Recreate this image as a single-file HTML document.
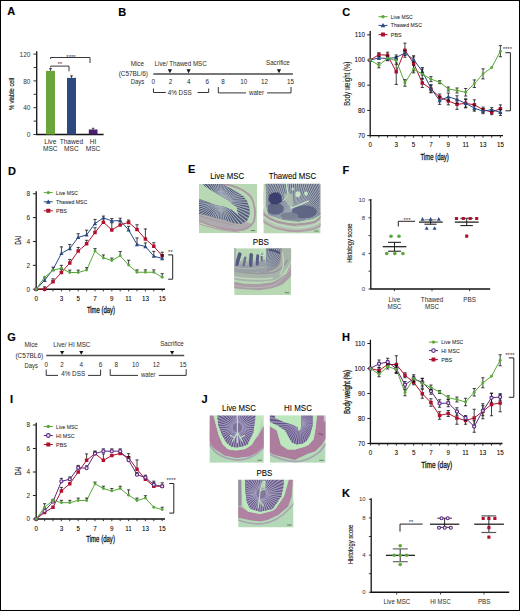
<!DOCTYPE html>
<html><head><meta charset="utf-8"><style>
html,body{margin:0;padding:0;background:#fff;}
body{width:520px;height:611px;overflow:hidden;}
svg{display:block;}
text{font-family:"Liberation Sans",sans-serif;stroke:#1e1e1e;stroke-width:0.15px;}
</style></head><body>
<svg width="520" height="611" viewBox="0 0 520 611" font-family="Liberation Sans, sans-serif">
<rect x="0" y="0" width="520" height="611" fill="#fff"/>
<rect x="0.5" y="0.5" width="519" height="610" fill="none" stroke="#000" stroke-width="1"/>
<text x="7.3" y="15.3" font-size="11" font-weight="bold" fill="#000">A</text>
<line x1="36.7" y1="51.3" x2="36.7" y2="134.5" stroke="#111" stroke-width="1.3"/>
<line x1="36.1" y1="134.5" x2="103.6" y2="134.5" stroke="#111" stroke-width="1.4"/>
<line x1="33.4" y1="134.5" x2="36.7" y2="134.5" stroke="#222" stroke-width="0.9"/>
<text x="30.4" y="137.2" font-size="6.5" style="stroke-width:0px" text-anchor="end" fill="#333">0</text>
<line x1="33.4" y1="107.7" x2="36.7" y2="107.7" stroke="#222" stroke-width="0.9"/>
<text x="30.4" y="110.4" font-size="6.5" style="stroke-width:0px" text-anchor="end" fill="#333">40</text>
<line x1="33.4" y1="80.9" x2="36.7" y2="80.9" stroke="#222" stroke-width="0.9"/>
<text x="30.4" y="83.6" font-size="6.5" style="stroke-width:0px" text-anchor="end" fill="#333">80</text>
<line x1="33.4" y1="54.1" x2="36.7" y2="54.1" stroke="#222" stroke-width="0.9"/>
<text x="30.4" y="56.8" font-size="6.5" style="stroke-width:0px" text-anchor="end" fill="#333">120</text>
<line x1="33.6" y1="121.1" x2="36.7" y2="121.1" stroke="#222" stroke-width="0.9"/>
<line x1="33.6" y1="94.3" x2="36.7" y2="94.3" stroke="#222" stroke-width="0.9"/>
<line x1="33.6" y1="67.5" x2="36.7" y2="67.5" stroke="#222" stroke-width="0.9"/>
<text x="14" y="94" font-size="7.7" style="stroke-width:0.1px" text-anchor="middle" textLength="32.4" lengthAdjust="spacingAndGlyphs" transform="rotate(-90 14 94)">% viable cell</text>
<rect x="46" y="70.85" width="9" height="63.65" fill="#6aa63c"/>
<rect x="67" y="77.88" width="9" height="56.62" fill="#2c4a80"/>
<rect x="88.8" y="129.47" width="8.7" height="5.03" fill="#4b1f6c"/>
<line x1="50.5" y1="70.85" x2="50.5" y2="68.65" stroke="#111" stroke-width="0.8"/>
<line x1="49" y1="68.65" x2="52" y2="68.65" stroke="#111" stroke-width="0.8"/>
<line x1="71.5" y1="77.88" x2="71.5" y2="75.88" stroke="#111" stroke-width="0.8"/>
<line x1="70" y1="75.88" x2="73" y2="75.88" stroke="#111" stroke-width="0.8"/>
<line x1="93.1" y1="129.47" x2="93.1" y2="128.28" stroke="#111" stroke-width="0.8"/>
<line x1="91.9" y1="128.28" x2="94.3" y2="128.28" stroke="#111" stroke-width="0.8"/>
<path d="M50.6,67.3 V66.1 H69 V71.3" stroke="#222" stroke-width="0.9" fill="none"/>
<text x="59.8" y="66.28" font-size="6" style="stroke-width:0px" text-anchor="middle" fill="#333">**</text>
<path d="M50.6,59 V57.5 H90 V63" stroke="#222" stroke-width="0.9" fill="none"/>
<text x="71" y="58.78" font-size="6" style="stroke-width:0px" text-anchor="middle" fill="#333">****</text>
<text x="50.3" y="144" font-size="6.6" style="stroke-width:0px" text-anchor="middle" fill="#2a2a2a">Live</text>
<text x="50.3" y="151.3" font-size="6.6" style="stroke-width:0px" text-anchor="middle" fill="#2a2a2a">MSC</text>
<text x="71.4" y="144" font-size="6.6" style="stroke-width:0px" text-anchor="middle" fill="#2a2a2a">Thawed</text>
<text x="71.4" y="151.3" font-size="6.6" style="stroke-width:0px" text-anchor="middle" fill="#2a2a2a">MSC</text>
<text x="93" y="144" font-size="6.6" style="stroke-width:0px" text-anchor="middle" fill="#2a2a2a">HI</text>
<text x="93" y="151.3" font-size="6.6" style="stroke-width:0px" text-anchor="middle" fill="#2a2a2a">MSC</text>
<text x="118.3" y="15.5" font-size="11" font-weight="bold" fill="#000">B</text>
<text x="137.3" y="65.8" font-size="6.3" style="stroke-width:0px" text-anchor="middle" fill="#2a2a2a">Mice</text>
<text x="118.7" y="76" font-size="6.3" style="stroke-width:0px" textLength="29.2" lengthAdjust="spacingAndGlyphs" fill="#2a2a2a">(C57BL/6)</text>
<text x="130.8" y="84.2" font-size="6.3" style="stroke-width:0px" textLength="13.4" lengthAdjust="spacingAndGlyphs" fill="#2a2a2a">Days</text>
<text x="154.6" y="66" font-size="6.3" style="stroke-width:0px" textLength="52.1" lengthAdjust="spacingAndGlyphs" fill="#2a2a2a">Live/ Thawed MSC</text>
<line x1="153.3" y1="73.9" x2="292.9" y2="73.9" stroke="#4a4a4a" stroke-width="1.5"/>
<path d="M167.8,69.3 L172,69.3 L169.9,73.2 Z" fill="#111"/>
<path d="M186.5,69.3 L190.7,69.3 L188.6,73.2 Z" fill="#111"/>
<path d="M276.9,69.3 L281.1,69.3 L279,73.2 Z" fill="#111"/>
<text x="266" y="65" font-size="6.3" style="stroke-width:0px" textLength="23.8" lengthAdjust="spacingAndGlyphs" fill="#2a2a2a">Sacrifice</text>
<text x="153.3" y="84.2" font-size="6.3" style="stroke-width:0px" text-anchor="middle" fill="#2a2a2a">0</text>
<text x="170.6" y="84.2" font-size="6.3" style="stroke-width:0px" text-anchor="middle" fill="#2a2a2a">2</text>
<text x="188.8" y="84.2" font-size="6.3" style="stroke-width:0px" text-anchor="middle" fill="#2a2a2a">4</text>
<text x="207.3" y="84.2" font-size="6.3" style="stroke-width:0px" text-anchor="middle" fill="#2a2a2a">6</text>
<text x="223" y="84.2" font-size="6.3" style="stroke-width:0px" text-anchor="middle" fill="#2a2a2a">8</text>
<text x="243.8" y="84.2" font-size="6.3" style="stroke-width:0px" text-anchor="middle" fill="#2a2a2a">10</text>
<text x="264.4" y="84.2" font-size="6.3" style="stroke-width:0px" text-anchor="middle" fill="#2a2a2a">12</text>
<text x="290.4" y="84.2" font-size="6.3" style="stroke-width:0px" text-anchor="middle" fill="#2a2a2a">15</text>
<path d="M153.5,88.5 V92.5 H165.8 M197.5,92.5 H208.7 V88.5" stroke="#333" stroke-width="1" fill="none"/>
<text x="179.7" y="94.8" font-size="6.3" style="stroke-width:0px" text-anchor="middle" textLength="24" lengthAdjust="spacingAndGlyphs" fill="#2a2a2a">4% DSS</text>
<path d="M218.3,87 V92.9 H246 M267,92.9 H291 V87" stroke="#333" stroke-width="1" fill="none"/>
<text x="256.5" y="95" font-size="6.3" style="stroke-width:0px" text-anchor="middle" textLength="15" lengthAdjust="spacingAndGlyphs" fill="#2a2a2a">water</text>
<text x="7.3" y="340.5" font-size="11" font-weight="bold" fill="#000">G</text>
<text x="31.2" y="347.4" font-size="6.3" style="stroke-width:0px" text-anchor="middle" fill="#2a2a2a">Mice</text>
<text x="15.4" y="357.5" font-size="6.3" style="stroke-width:0px" textLength="27.9" lengthAdjust="spacingAndGlyphs" fill="#2a2a2a">(C57BL6)</text>
<text x="24.6" y="367.6" font-size="6.3" style="stroke-width:0px" textLength="13.3" lengthAdjust="spacingAndGlyphs" fill="#2a2a2a">Days</text>
<text x="53.3" y="347.4" font-size="6.3" style="stroke-width:0px" textLength="37.1" lengthAdjust="spacingAndGlyphs" fill="#2a2a2a">Live/ HI MSC</text>
<line x1="46.2" y1="355.4" x2="184.2" y2="355.4" stroke="#4a4a4a" stroke-width="1.5"/>
<path d="M60,350.9 L64.2,350.9 L62.1,354.8 Z" fill="#111"/>
<path d="M79.2,350.9 L83.4,350.9 L81.3,354.8 Z" fill="#111"/>
<path d="M170,350.9 L174.2,350.9 L172.1,354.8 Z" fill="#111"/>
<text x="160.2" y="345.9" font-size="6.3" style="stroke-width:0px" textLength="23.6" lengthAdjust="spacingAndGlyphs" fill="#2a2a2a">Sacrifice</text>
<text x="46.2" y="367.1" font-size="6.3" style="stroke-width:0px" text-anchor="middle" fill="#2a2a2a">0</text>
<text x="62.1" y="367.1" font-size="6.3" style="stroke-width:0px" text-anchor="middle" fill="#2a2a2a">2</text>
<text x="81.3" y="367.1" font-size="6.3" style="stroke-width:0px" text-anchor="middle" fill="#2a2a2a">4</text>
<text x="100.6" y="367.1" font-size="6.3" style="stroke-width:0px" text-anchor="middle" fill="#2a2a2a">6</text>
<text x="116.3" y="367.1" font-size="6.3" style="stroke-width:0px" text-anchor="middle" fill="#2a2a2a">8</text>
<text x="135.6" y="367.1" font-size="6.3" style="stroke-width:0px" text-anchor="middle" fill="#2a2a2a">10</text>
<text x="156.3" y="367.1" font-size="6.3" style="stroke-width:0px" text-anchor="middle" fill="#2a2a2a">12</text>
<text x="182.9" y="367.1" font-size="6.3" style="stroke-width:0px" text-anchor="middle" fill="#2a2a2a">15</text>
<path d="M46.2,369.6 V375.4 H58 M88,375.4 H100.6 V369.6" stroke="#333" stroke-width="1" fill="none"/>
<text x="73.2" y="376.3" font-size="6.3" style="stroke-width:0px" text-anchor="middle" textLength="24" lengthAdjust="spacingAndGlyphs" fill="#2a2a2a">4% DSS</text>
<path d="M110.2,369.2 V375.4 H138 M158.8,375.4 H186.2 V369.2" stroke="#333" stroke-width="1" fill="none"/>
<text x="148.2" y="377.4" font-size="6.3" style="stroke-width:0px" text-anchor="middle" textLength="14.4" lengthAdjust="spacingAndGlyphs" fill="#2a2a2a">water</text>
<text x="342.3" y="15.5" font-size="11" font-weight="bold" fill="#000">C</text>
<line x1="370.2" y1="31.02" x2="370.2" y2="135.6" stroke="#111" stroke-width="1.3"/>
<line x1="369.6" y1="135.6" x2="503" y2="135.6" stroke="#111" stroke-width="1.4"/>
<line x1="367.2" y1="135.6" x2="370.2" y2="135.6" stroke="#222" stroke-width="1"/>
<text x="364.9" y="137.8" font-size="6.3" style="stroke-width:0.05px" text-anchor="end">70</text>
<line x1="367.2" y1="110.4" x2="370.2" y2="110.4" stroke="#222" stroke-width="1"/>
<text x="364.9" y="112.6" font-size="6.3" style="stroke-width:0.05px" text-anchor="end">80</text>
<line x1="367.2" y1="85.2" x2="370.2" y2="85.2" stroke="#222" stroke-width="1"/>
<text x="364.9" y="87.4" font-size="6.3" style="stroke-width:0.05px" text-anchor="end">90</text>
<line x1="367.2" y1="60" x2="370.2" y2="60" stroke="#222" stroke-width="1"/>
<text x="364.9" y="62.2" font-size="6.3" style="stroke-width:0.05px" text-anchor="end">100</text>
<line x1="367.2" y1="34.8" x2="370.2" y2="34.8" stroke="#222" stroke-width="1"/>
<text x="364.9" y="37" font-size="6.3" style="stroke-width:0.05px" text-anchor="end">110</text>
<line x1="370.2" y1="135.6" x2="370.2" y2="137.8" stroke="#222" stroke-width="0.9"/>
<line x1="378.88" y1="135.6" x2="378.88" y2="137.8" stroke="#222" stroke-width="0.9"/>
<line x1="387.56" y1="135.6" x2="387.56" y2="137.8" stroke="#222" stroke-width="0.9"/>
<line x1="396.24" y1="135.6" x2="396.24" y2="137.8" stroke="#222" stroke-width="0.9"/>
<line x1="404.92" y1="135.6" x2="404.92" y2="137.8" stroke="#222" stroke-width="0.9"/>
<line x1="413.6" y1="135.6" x2="413.6" y2="137.8" stroke="#222" stroke-width="0.9"/>
<line x1="422.28" y1="135.6" x2="422.28" y2="137.8" stroke="#222" stroke-width="0.9"/>
<line x1="430.96" y1="135.6" x2="430.96" y2="137.8" stroke="#222" stroke-width="0.9"/>
<line x1="439.64" y1="135.6" x2="439.64" y2="137.8" stroke="#222" stroke-width="0.9"/>
<line x1="448.32" y1="135.6" x2="448.32" y2="137.8" stroke="#222" stroke-width="0.9"/>
<line x1="457" y1="135.6" x2="457" y2="137.8" stroke="#222" stroke-width="0.9"/>
<line x1="465.68" y1="135.6" x2="465.68" y2="137.8" stroke="#222" stroke-width="0.9"/>
<line x1="474.36" y1="135.6" x2="474.36" y2="137.8" stroke="#222" stroke-width="0.9"/>
<line x1="483.04" y1="135.6" x2="483.04" y2="137.8" stroke="#222" stroke-width="0.9"/>
<line x1="491.72" y1="135.6" x2="491.72" y2="137.8" stroke="#222" stroke-width="0.9"/>
<line x1="500.4" y1="135.6" x2="500.4" y2="137.8" stroke="#222" stroke-width="0.9"/>
<text x="370.2" y="147.2" font-size="6.3" style="stroke-width:0.05px" text-anchor="middle">0</text>
<text x="396.24" y="147.2" font-size="6.3" style="stroke-width:0.05px" text-anchor="middle">3</text>
<text x="413.6" y="147.2" font-size="6.3" style="stroke-width:0.05px" text-anchor="middle">5</text>
<text x="430.96" y="147.2" font-size="6.3" style="stroke-width:0.05px" text-anchor="middle">7</text>
<text x="448.32" y="147.2" font-size="6.3" style="stroke-width:0.05px" text-anchor="middle">9</text>
<text x="465.68" y="147.2" font-size="6.3" style="stroke-width:0.05px" text-anchor="middle">11</text>
<text x="483.04" y="147.2" font-size="6.3" style="stroke-width:0.05px" text-anchor="middle">13</text>
<text x="500.4" y="147.2" font-size="6.3" style="stroke-width:0.05px" text-anchor="middle">15</text>
<text x="420.4" y="159.8" font-size="8.8" style="stroke-width:0.3px" textLength="28.4" lengthAdjust="spacingAndGlyphs">Time (day)</text>
<text x="349.6" y="83.69" font-size="8.3" style="stroke-width:0.05px" text-anchor="middle" textLength="44" lengthAdjust="spacingAndGlyphs" transform="rotate(-90 349.6 83.69)">Body weight (%)</text>
<line x1="378.5" y1="16.7" x2="387.5" y2="16.7" stroke="#5aa83a" stroke-width="1"/>
<circle cx="383" cy="16.7" r="1.67" fill="#5aa83a"/>
<text x="390.8" y="18.7" font-size="5.6" style="stroke-width:0.05px" textLength="21.9" lengthAdjust="spacingAndGlyphs" fill="#222">Live MSC</text>
<line x1="378.5" y1="25.4" x2="387.5" y2="25.4" stroke="#2a4a86" stroke-width="1"/>
<path d="M383,22.98 L385.42,27.33 L380.58,27.33 Z" fill="#2a4a86"/>
<text x="390.8" y="27.4" font-size="5.6" style="stroke-width:0.05px" textLength="31.1" lengthAdjust="spacingAndGlyphs" fill="#222">Thawed MSC</text>
<line x1="378.5" y1="34.6" x2="387.5" y2="34.6" stroke="#b0102e" stroke-width="1"/>
<rect x="380.99" y="32.59" width="4.02" height="4.02" rx="0.5" fill="#b0102e"/>
<text x="390.8" y="36.6" font-size="5.6" style="stroke-width:0.05px" textLength="10.8" lengthAdjust="spacingAndGlyphs" fill="#222">PBS</text>
<polyline points="370.2,60 378.88,54.71 387.56,55.21 396.24,71.84 404.92,50.17 413.6,63.28 422.28,82.93 430.96,88.98 439.64,97.04 448.32,101.08 457,104.35 465.68,103.34 474.36,104.86 483.04,109.64 491.72,112.16 500.4,108.64" fill="none" stroke="#b0102e" stroke-width="1" stroke-linejoin="round"/>
<line x1="378.88" y1="54.71" x2="378.88" y2="52.69" stroke="#111" stroke-width="0.8"/>
<line x1="377.28" y1="52.69" x2="380.48" y2="52.69" stroke="#111" stroke-width="0.8"/>
<line x1="378.88" y1="54.71" x2="378.88" y2="56.72" stroke="#111" stroke-width="0.8"/>
<line x1="377.28" y1="56.72" x2="380.48" y2="56.72" stroke="#111" stroke-width="0.8"/>
<line x1="387.56" y1="55.21" x2="387.56" y2="52.19" stroke="#111" stroke-width="0.8"/>
<line x1="385.96" y1="52.19" x2="389.16" y2="52.19" stroke="#111" stroke-width="0.8"/>
<line x1="387.56" y1="55.21" x2="387.56" y2="58.24" stroke="#111" stroke-width="0.8"/>
<line x1="385.96" y1="58.24" x2="389.16" y2="58.24" stroke="#111" stroke-width="0.8"/>
<line x1="396.24" y1="71.84" x2="396.24" y2="59.24" stroke="#111" stroke-width="0.8"/>
<line x1="394.64" y1="59.24" x2="397.84" y2="59.24" stroke="#111" stroke-width="0.8"/>
<line x1="396.24" y1="71.84" x2="396.24" y2="84.44" stroke="#111" stroke-width="0.8"/>
<line x1="394.64" y1="84.44" x2="397.84" y2="84.44" stroke="#111" stroke-width="0.8"/>
<line x1="404.92" y1="50.17" x2="404.92" y2="43.12" stroke="#111" stroke-width="0.8"/>
<line x1="403.32" y1="43.12" x2="406.52" y2="43.12" stroke="#111" stroke-width="0.8"/>
<line x1="404.92" y1="50.17" x2="404.92" y2="57.23" stroke="#111" stroke-width="0.8"/>
<line x1="403.32" y1="57.23" x2="406.52" y2="57.23" stroke="#111" stroke-width="0.8"/>
<line x1="413.6" y1="63.28" x2="413.6" y2="55.72" stroke="#111" stroke-width="0.8"/>
<line x1="412" y1="55.72" x2="415.2" y2="55.72" stroke="#111" stroke-width="0.8"/>
<line x1="413.6" y1="63.28" x2="413.6" y2="70.84" stroke="#111" stroke-width="0.8"/>
<line x1="412" y1="70.84" x2="415.2" y2="70.84" stroke="#111" stroke-width="0.8"/>
<line x1="422.28" y1="82.93" x2="422.28" y2="78.4" stroke="#111" stroke-width="0.8"/>
<line x1="420.68" y1="78.4" x2="423.88" y2="78.4" stroke="#111" stroke-width="0.8"/>
<line x1="422.28" y1="82.93" x2="422.28" y2="87.47" stroke="#111" stroke-width="0.8"/>
<line x1="420.68" y1="87.47" x2="423.88" y2="87.47" stroke="#111" stroke-width="0.8"/>
<line x1="430.96" y1="88.98" x2="430.96" y2="85.2" stroke="#111" stroke-width="0.8"/>
<line x1="429.36" y1="85.2" x2="432.56" y2="85.2" stroke="#111" stroke-width="0.8"/>
<line x1="430.96" y1="88.98" x2="430.96" y2="92.76" stroke="#111" stroke-width="0.8"/>
<line x1="429.36" y1="92.76" x2="432.56" y2="92.76" stroke="#111" stroke-width="0.8"/>
<line x1="439.64" y1="97.04" x2="439.64" y2="94.02" stroke="#111" stroke-width="0.8"/>
<line x1="438.04" y1="94.02" x2="441.24" y2="94.02" stroke="#111" stroke-width="0.8"/>
<line x1="439.64" y1="97.04" x2="439.64" y2="100.07" stroke="#111" stroke-width="0.8"/>
<line x1="438.04" y1="100.07" x2="441.24" y2="100.07" stroke="#111" stroke-width="0.8"/>
<line x1="448.32" y1="101.08" x2="448.32" y2="97.3" stroke="#111" stroke-width="0.8"/>
<line x1="446.72" y1="97.3" x2="449.92" y2="97.3" stroke="#111" stroke-width="0.8"/>
<line x1="448.32" y1="101.08" x2="448.32" y2="104.86" stroke="#111" stroke-width="0.8"/>
<line x1="446.72" y1="104.86" x2="449.92" y2="104.86" stroke="#111" stroke-width="0.8"/>
<line x1="457" y1="104.35" x2="457" y2="99.31" stroke="#111" stroke-width="0.8"/>
<line x1="455.4" y1="99.31" x2="458.6" y2="99.31" stroke="#111" stroke-width="0.8"/>
<line x1="457" y1="104.35" x2="457" y2="109.39" stroke="#111" stroke-width="0.8"/>
<line x1="455.4" y1="109.39" x2="458.6" y2="109.39" stroke="#111" stroke-width="0.8"/>
<line x1="465.68" y1="103.34" x2="465.68" y2="98.81" stroke="#111" stroke-width="0.8"/>
<line x1="464.08" y1="98.81" x2="467.28" y2="98.81" stroke="#111" stroke-width="0.8"/>
<line x1="465.68" y1="103.34" x2="465.68" y2="107.88" stroke="#111" stroke-width="0.8"/>
<line x1="464.08" y1="107.88" x2="467.28" y2="107.88" stroke="#111" stroke-width="0.8"/>
<line x1="474.36" y1="104.86" x2="474.36" y2="99.82" stroke="#111" stroke-width="0.8"/>
<line x1="472.76" y1="99.82" x2="475.96" y2="99.82" stroke="#111" stroke-width="0.8"/>
<line x1="474.36" y1="104.86" x2="474.36" y2="109.9" stroke="#111" stroke-width="0.8"/>
<line x1="472.76" y1="109.9" x2="475.96" y2="109.9" stroke="#111" stroke-width="0.8"/>
<line x1="483.04" y1="109.64" x2="483.04" y2="107.12" stroke="#111" stroke-width="0.8"/>
<line x1="481.44" y1="107.12" x2="484.64" y2="107.12" stroke="#111" stroke-width="0.8"/>
<line x1="483.04" y1="109.64" x2="483.04" y2="112.16" stroke="#111" stroke-width="0.8"/>
<line x1="481.44" y1="112.16" x2="484.64" y2="112.16" stroke="#111" stroke-width="0.8"/>
<line x1="491.72" y1="112.16" x2="491.72" y2="109.64" stroke="#111" stroke-width="0.8"/>
<line x1="490.12" y1="109.64" x2="493.32" y2="109.64" stroke="#111" stroke-width="0.8"/>
<line x1="491.72" y1="112.16" x2="491.72" y2="114.68" stroke="#111" stroke-width="0.8"/>
<line x1="490.12" y1="114.68" x2="493.32" y2="114.68" stroke="#111" stroke-width="0.8"/>
<line x1="500.4" y1="108.64" x2="500.4" y2="104.86" stroke="#111" stroke-width="0.8"/>
<line x1="498.8" y1="104.86" x2="502" y2="104.86" stroke="#111" stroke-width="0.8"/>
<line x1="500.4" y1="108.64" x2="500.4" y2="112.42" stroke="#111" stroke-width="0.8"/>
<line x1="498.8" y1="112.42" x2="502" y2="112.42" stroke="#111" stroke-width="0.8"/>
<rect x="368.45" y="58.25" width="3.5" height="3.5" rx="0.5" fill="#b0102e"/>
<rect x="377.13" y="52.96" width="3.5" height="3.5" rx="0.5" fill="#b0102e"/>
<rect x="385.81" y="53.46" width="3.5" height="3.5" rx="0.5" fill="#b0102e"/>
<rect x="394.49" y="70.09" width="3.5" height="3.5" rx="0.5" fill="#b0102e"/>
<rect x="403.17" y="48.42" width="3.5" height="3.5" rx="0.5" fill="#b0102e"/>
<rect x="411.85" y="61.53" width="3.5" height="3.5" rx="0.5" fill="#b0102e"/>
<rect x="420.53" y="81.18" width="3.5" height="3.5" rx="0.5" fill="#b0102e"/>
<rect x="429.21" y="87.23" width="3.5" height="3.5" rx="0.5" fill="#b0102e"/>
<rect x="437.89" y="95.29" width="3.5" height="3.5" rx="0.5" fill="#b0102e"/>
<rect x="446.57" y="99.33" width="3.5" height="3.5" rx="0.5" fill="#b0102e"/>
<rect x="455.25" y="102.6" width="3.5" height="3.5" rx="0.5" fill="#b0102e"/>
<rect x="463.93" y="101.59" width="3.5" height="3.5" rx="0.5" fill="#b0102e"/>
<rect x="472.61" y="103.11" width="3.5" height="3.5" rx="0.5" fill="#b0102e"/>
<rect x="481.29" y="107.89" width="3.5" height="3.5" rx="0.5" fill="#b0102e"/>
<rect x="489.97" y="110.41" width="3.5" height="3.5" rx="0.5" fill="#b0102e"/>
<rect x="498.65" y="106.89" width="3.5" height="3.5" rx="0.5" fill="#b0102e"/>
<polyline points="370.2,60 378.88,57.98 387.56,58.49 396.24,57.48 404.92,52.94 413.6,59.5 422.28,71.34 430.96,88.48 439.64,100.57 448.32,96.79 457,99.56 465.68,103.34 474.36,108.13 483.04,111.16 491.72,109.64 500.4,112.42" fill="none" stroke="#2a4a86" stroke-width="1" stroke-linejoin="round"/>
<line x1="378.88" y1="57.98" x2="378.88" y2="56.72" stroke="#111" stroke-width="0.8"/>
<line x1="377.28" y1="56.72" x2="380.48" y2="56.72" stroke="#111" stroke-width="0.8"/>
<line x1="378.88" y1="57.98" x2="378.88" y2="59.24" stroke="#111" stroke-width="0.8"/>
<line x1="377.28" y1="59.24" x2="380.48" y2="59.24" stroke="#111" stroke-width="0.8"/>
<line x1="387.56" y1="58.49" x2="387.56" y2="56.98" stroke="#111" stroke-width="0.8"/>
<line x1="385.96" y1="56.98" x2="389.16" y2="56.98" stroke="#111" stroke-width="0.8"/>
<line x1="387.56" y1="58.49" x2="387.56" y2="60" stroke="#111" stroke-width="0.8"/>
<line x1="385.96" y1="60" x2="389.16" y2="60" stroke="#111" stroke-width="0.8"/>
<line x1="396.24" y1="57.48" x2="396.24" y2="54.96" stroke="#111" stroke-width="0.8"/>
<line x1="394.64" y1="54.96" x2="397.84" y2="54.96" stroke="#111" stroke-width="0.8"/>
<line x1="396.24" y1="57.48" x2="396.24" y2="60" stroke="#111" stroke-width="0.8"/>
<line x1="394.64" y1="60" x2="397.84" y2="60" stroke="#111" stroke-width="0.8"/>
<line x1="404.92" y1="52.94" x2="404.92" y2="50.42" stroke="#111" stroke-width="0.8"/>
<line x1="403.32" y1="50.42" x2="406.52" y2="50.42" stroke="#111" stroke-width="0.8"/>
<line x1="404.92" y1="52.94" x2="404.92" y2="55.46" stroke="#111" stroke-width="0.8"/>
<line x1="403.32" y1="55.46" x2="406.52" y2="55.46" stroke="#111" stroke-width="0.8"/>
<line x1="413.6" y1="59.5" x2="413.6" y2="56.98" stroke="#111" stroke-width="0.8"/>
<line x1="412" y1="56.98" x2="415.2" y2="56.98" stroke="#111" stroke-width="0.8"/>
<line x1="413.6" y1="59.5" x2="413.6" y2="62.02" stroke="#111" stroke-width="0.8"/>
<line x1="412" y1="62.02" x2="415.2" y2="62.02" stroke="#111" stroke-width="0.8"/>
<line x1="422.28" y1="71.34" x2="422.28" y2="67.56" stroke="#111" stroke-width="0.8"/>
<line x1="420.68" y1="67.56" x2="423.88" y2="67.56" stroke="#111" stroke-width="0.8"/>
<line x1="422.28" y1="71.34" x2="422.28" y2="75.12" stroke="#111" stroke-width="0.8"/>
<line x1="420.68" y1="75.12" x2="423.88" y2="75.12" stroke="#111" stroke-width="0.8"/>
<line x1="430.96" y1="88.48" x2="430.96" y2="84.7" stroke="#111" stroke-width="0.8"/>
<line x1="429.36" y1="84.7" x2="432.56" y2="84.7" stroke="#111" stroke-width="0.8"/>
<line x1="430.96" y1="88.48" x2="430.96" y2="92.26" stroke="#111" stroke-width="0.8"/>
<line x1="429.36" y1="92.26" x2="432.56" y2="92.26" stroke="#111" stroke-width="0.8"/>
<line x1="439.64" y1="100.57" x2="439.64" y2="96.79" stroke="#111" stroke-width="0.8"/>
<line x1="438.04" y1="96.79" x2="441.24" y2="96.79" stroke="#111" stroke-width="0.8"/>
<line x1="439.64" y1="100.57" x2="439.64" y2="104.35" stroke="#111" stroke-width="0.8"/>
<line x1="438.04" y1="104.35" x2="441.24" y2="104.35" stroke="#111" stroke-width="0.8"/>
<line x1="448.32" y1="96.79" x2="448.32" y2="93.01" stroke="#111" stroke-width="0.8"/>
<line x1="446.72" y1="93.01" x2="449.92" y2="93.01" stroke="#111" stroke-width="0.8"/>
<line x1="448.32" y1="96.79" x2="448.32" y2="100.57" stroke="#111" stroke-width="0.8"/>
<line x1="446.72" y1="100.57" x2="449.92" y2="100.57" stroke="#111" stroke-width="0.8"/>
<line x1="457" y1="99.56" x2="457" y2="95.78" stroke="#111" stroke-width="0.8"/>
<line x1="455.4" y1="95.78" x2="458.6" y2="95.78" stroke="#111" stroke-width="0.8"/>
<line x1="457" y1="99.56" x2="457" y2="103.34" stroke="#111" stroke-width="0.8"/>
<line x1="455.4" y1="103.34" x2="458.6" y2="103.34" stroke="#111" stroke-width="0.8"/>
<line x1="465.68" y1="103.34" x2="465.68" y2="99.56" stroke="#111" stroke-width="0.8"/>
<line x1="464.08" y1="99.56" x2="467.28" y2="99.56" stroke="#111" stroke-width="0.8"/>
<line x1="465.68" y1="103.34" x2="465.68" y2="107.12" stroke="#111" stroke-width="0.8"/>
<line x1="464.08" y1="107.12" x2="467.28" y2="107.12" stroke="#111" stroke-width="0.8"/>
<line x1="474.36" y1="108.13" x2="474.36" y2="105.11" stroke="#111" stroke-width="0.8"/>
<line x1="472.76" y1="105.11" x2="475.96" y2="105.11" stroke="#111" stroke-width="0.8"/>
<line x1="474.36" y1="108.13" x2="474.36" y2="111.16" stroke="#111" stroke-width="0.8"/>
<line x1="472.76" y1="111.16" x2="475.96" y2="111.16" stroke="#111" stroke-width="0.8"/>
<line x1="483.04" y1="111.16" x2="483.04" y2="108.64" stroke="#111" stroke-width="0.8"/>
<line x1="481.44" y1="108.64" x2="484.64" y2="108.64" stroke="#111" stroke-width="0.8"/>
<line x1="483.04" y1="111.16" x2="483.04" y2="113.68" stroke="#111" stroke-width="0.8"/>
<line x1="481.44" y1="113.68" x2="484.64" y2="113.68" stroke="#111" stroke-width="0.8"/>
<line x1="491.72" y1="109.64" x2="491.72" y2="107.63" stroke="#111" stroke-width="0.8"/>
<line x1="490.12" y1="107.63" x2="493.32" y2="107.63" stroke="#111" stroke-width="0.8"/>
<line x1="491.72" y1="109.64" x2="491.72" y2="111.66" stroke="#111" stroke-width="0.8"/>
<line x1="490.12" y1="111.66" x2="493.32" y2="111.66" stroke="#111" stroke-width="0.8"/>
<line x1="500.4" y1="112.42" x2="500.4" y2="109.39" stroke="#111" stroke-width="0.8"/>
<line x1="498.8" y1="109.39" x2="502" y2="109.39" stroke="#111" stroke-width="0.8"/>
<line x1="500.4" y1="112.42" x2="500.4" y2="115.44" stroke="#111" stroke-width="0.8"/>
<line x1="498.8" y1="115.44" x2="502" y2="115.44" stroke="#111" stroke-width="0.8"/>
<path d="M370.2,57.9 L372.3,61.68 L368.1,61.68 Z" fill="#2a4a86"/>
<path d="M378.88,55.88 L380.98,59.66 L376.78,59.66 Z" fill="#2a4a86"/>
<path d="M387.56,56.39 L389.66,60.17 L385.46,60.17 Z" fill="#2a4a86"/>
<path d="M396.24,55.38 L398.34,59.16 L394.14,59.16 Z" fill="#2a4a86"/>
<path d="M404.92,50.84 L407.02,54.62 L402.82,54.62 Z" fill="#2a4a86"/>
<path d="M413.6,57.4 L415.7,61.18 L411.5,61.18 Z" fill="#2a4a86"/>
<path d="M422.28,69.24 L424.38,73.02 L420.18,73.02 Z" fill="#2a4a86"/>
<path d="M430.96,86.38 L433.06,90.16 L428.86,90.16 Z" fill="#2a4a86"/>
<path d="M439.64,98.47 L441.74,102.25 L437.54,102.25 Z" fill="#2a4a86"/>
<path d="M448.32,94.69 L450.42,98.47 L446.22,98.47 Z" fill="#2a4a86"/>
<path d="M457,97.46 L459.1,101.24 L454.9,101.24 Z" fill="#2a4a86"/>
<path d="M465.68,101.24 L467.78,105.02 L463.58,105.02 Z" fill="#2a4a86"/>
<path d="M474.36,106.03 L476.46,109.81 L472.26,109.81 Z" fill="#2a4a86"/>
<path d="M483.04,109.06 L485.14,112.84 L480.94,112.84 Z" fill="#2a4a86"/>
<path d="M491.72,107.54 L493.82,111.32 L489.62,111.32 Z" fill="#2a4a86"/>
<path d="M500.4,110.32 L502.5,114.1 L498.3,114.1 Z" fill="#2a4a86"/>
<polyline points="370.2,60 378.88,65.29 387.56,58.24 396.24,60.5 404.92,82.93 413.6,69.07 422.28,74.11 430.96,79.15 439.64,82.18 448.32,88.98 457,90.49 465.68,92.26 474.36,83.69 483.04,73.86 491.72,67.56 500.4,51.18" fill="none" stroke="#5aa83a" stroke-width="1" stroke-linejoin="round"/>
<line x1="378.88" y1="65.29" x2="378.88" y2="62.77" stroke="#111" stroke-width="0.8"/>
<line x1="377.28" y1="62.77" x2="380.48" y2="62.77" stroke="#111" stroke-width="0.8"/>
<line x1="378.88" y1="65.29" x2="378.88" y2="67.81" stroke="#111" stroke-width="0.8"/>
<line x1="377.28" y1="67.81" x2="380.48" y2="67.81" stroke="#111" stroke-width="0.8"/>
<line x1="387.56" y1="58.24" x2="387.56" y2="55.72" stroke="#111" stroke-width="0.8"/>
<line x1="385.96" y1="55.72" x2="389.16" y2="55.72" stroke="#111" stroke-width="0.8"/>
<line x1="387.56" y1="58.24" x2="387.56" y2="60.76" stroke="#111" stroke-width="0.8"/>
<line x1="385.96" y1="60.76" x2="389.16" y2="60.76" stroke="#111" stroke-width="0.8"/>
<line x1="396.24" y1="60.5" x2="396.24" y2="56.72" stroke="#111" stroke-width="0.8"/>
<line x1="394.64" y1="56.72" x2="397.84" y2="56.72" stroke="#111" stroke-width="0.8"/>
<line x1="396.24" y1="60.5" x2="396.24" y2="64.28" stroke="#111" stroke-width="0.8"/>
<line x1="394.64" y1="64.28" x2="397.84" y2="64.28" stroke="#111" stroke-width="0.8"/>
<line x1="404.92" y1="82.93" x2="404.92" y2="79.66" stroke="#111" stroke-width="0.8"/>
<line x1="403.32" y1="79.66" x2="406.52" y2="79.66" stroke="#111" stroke-width="0.8"/>
<line x1="404.92" y1="82.93" x2="404.92" y2="86.21" stroke="#111" stroke-width="0.8"/>
<line x1="403.32" y1="86.21" x2="406.52" y2="86.21" stroke="#111" stroke-width="0.8"/>
<line x1="413.6" y1="69.07" x2="413.6" y2="65.29" stroke="#111" stroke-width="0.8"/>
<line x1="412" y1="65.29" x2="415.2" y2="65.29" stroke="#111" stroke-width="0.8"/>
<line x1="413.6" y1="69.07" x2="413.6" y2="72.85" stroke="#111" stroke-width="0.8"/>
<line x1="412" y1="72.85" x2="415.2" y2="72.85" stroke="#111" stroke-width="0.8"/>
<line x1="422.28" y1="74.11" x2="422.28" y2="69.07" stroke="#111" stroke-width="0.8"/>
<line x1="420.68" y1="69.07" x2="423.88" y2="69.07" stroke="#111" stroke-width="0.8"/>
<line x1="422.28" y1="74.11" x2="422.28" y2="79.15" stroke="#111" stroke-width="0.8"/>
<line x1="420.68" y1="79.15" x2="423.88" y2="79.15" stroke="#111" stroke-width="0.8"/>
<line x1="430.96" y1="79.15" x2="430.96" y2="76.63" stroke="#111" stroke-width="0.8"/>
<line x1="429.36" y1="76.63" x2="432.56" y2="76.63" stroke="#111" stroke-width="0.8"/>
<line x1="430.96" y1="79.15" x2="430.96" y2="81.67" stroke="#111" stroke-width="0.8"/>
<line x1="429.36" y1="81.67" x2="432.56" y2="81.67" stroke="#111" stroke-width="0.8"/>
<line x1="439.64" y1="82.18" x2="439.64" y2="80.66" stroke="#111" stroke-width="0.8"/>
<line x1="438.04" y1="80.66" x2="441.24" y2="80.66" stroke="#111" stroke-width="0.8"/>
<line x1="439.64" y1="82.18" x2="439.64" y2="83.69" stroke="#111" stroke-width="0.8"/>
<line x1="438.04" y1="83.69" x2="441.24" y2="83.69" stroke="#111" stroke-width="0.8"/>
<line x1="448.32" y1="88.98" x2="448.32" y2="86.96" stroke="#111" stroke-width="0.8"/>
<line x1="446.72" y1="86.96" x2="449.92" y2="86.96" stroke="#111" stroke-width="0.8"/>
<line x1="448.32" y1="88.98" x2="448.32" y2="91" stroke="#111" stroke-width="0.8"/>
<line x1="446.72" y1="91" x2="449.92" y2="91" stroke="#111" stroke-width="0.8"/>
<line x1="457" y1="90.49" x2="457" y2="87.97" stroke="#111" stroke-width="0.8"/>
<line x1="455.4" y1="87.97" x2="458.6" y2="87.97" stroke="#111" stroke-width="0.8"/>
<line x1="457" y1="90.49" x2="457" y2="93.01" stroke="#111" stroke-width="0.8"/>
<line x1="455.4" y1="93.01" x2="458.6" y2="93.01" stroke="#111" stroke-width="0.8"/>
<line x1="465.68" y1="92.26" x2="465.68" y2="88.48" stroke="#111" stroke-width="0.8"/>
<line x1="464.08" y1="88.48" x2="467.28" y2="88.48" stroke="#111" stroke-width="0.8"/>
<line x1="465.68" y1="92.26" x2="465.68" y2="96.04" stroke="#111" stroke-width="0.8"/>
<line x1="464.08" y1="96.04" x2="467.28" y2="96.04" stroke="#111" stroke-width="0.8"/>
<line x1="474.36" y1="83.69" x2="474.36" y2="79.91" stroke="#111" stroke-width="0.8"/>
<line x1="472.76" y1="79.91" x2="475.96" y2="79.91" stroke="#111" stroke-width="0.8"/>
<line x1="474.36" y1="83.69" x2="474.36" y2="87.47" stroke="#111" stroke-width="0.8"/>
<line x1="472.76" y1="87.47" x2="475.96" y2="87.47" stroke="#111" stroke-width="0.8"/>
<line x1="483.04" y1="73.86" x2="483.04" y2="68.82" stroke="#111" stroke-width="0.8"/>
<line x1="481.44" y1="68.82" x2="484.64" y2="68.82" stroke="#111" stroke-width="0.8"/>
<line x1="483.04" y1="73.86" x2="483.04" y2="78.9" stroke="#111" stroke-width="0.8"/>
<line x1="481.44" y1="78.9" x2="484.64" y2="78.9" stroke="#111" stroke-width="0.8"/>
<line x1="500.4" y1="51.18" x2="500.4" y2="45.64" stroke="#111" stroke-width="0.8"/>
<line x1="498.8" y1="45.64" x2="502" y2="45.64" stroke="#111" stroke-width="0.8"/>
<line x1="500.4" y1="51.18" x2="500.4" y2="56.72" stroke="#111" stroke-width="0.8"/>
<line x1="498.8" y1="56.72" x2="502" y2="56.72" stroke="#111" stroke-width="0.8"/>
<circle cx="370.2" cy="60" r="1.45" fill="#5aa83a"/>
<circle cx="378.88" cy="65.29" r="1.45" fill="#5aa83a"/>
<circle cx="387.56" cy="58.24" r="1.45" fill="#5aa83a"/>
<circle cx="396.24" cy="60.5" r="1.45" fill="#5aa83a"/>
<circle cx="404.92" cy="82.93" r="1.45" fill="#5aa83a"/>
<circle cx="413.6" cy="69.07" r="1.45" fill="#5aa83a"/>
<circle cx="422.28" cy="74.11" r="1.45" fill="#5aa83a"/>
<circle cx="430.96" cy="79.15" r="1.45" fill="#5aa83a"/>
<circle cx="439.64" cy="82.18" r="1.45" fill="#5aa83a"/>
<circle cx="448.32" cy="88.98" r="1.45" fill="#5aa83a"/>
<circle cx="457" cy="90.49" r="1.45" fill="#5aa83a"/>
<circle cx="465.68" cy="92.26" r="1.45" fill="#5aa83a"/>
<circle cx="474.36" cy="83.69" r="1.45" fill="#5aa83a"/>
<circle cx="483.04" cy="73.86" r="1.45" fill="#5aa83a"/>
<circle cx="491.72" cy="67.56" r="1.45" fill="#5aa83a"/>
<circle cx="500.4" cy="51.18" r="1.45" fill="#5aa83a"/>
<path d="M505.4,52.7 H510.4 V110.8 H505.4" stroke="#222" stroke-width="1" fill="none"/>
<text x="507.3" y="50.98" font-size="6" style="stroke-width:0px" text-anchor="middle" fill="#333">****</text>
<text x="342" y="340.7" font-size="11" font-weight="bold" fill="#000">H</text>
<line x1="370.4" y1="339.75" x2="370.4" y2="443.5" stroke="#111" stroke-width="1.3"/>
<line x1="369.8" y1="443.5" x2="502.5" y2="443.5" stroke="#111" stroke-width="1.4"/>
<line x1="367.4" y1="443.5" x2="370.4" y2="443.5" stroke="#222" stroke-width="1"/>
<text x="365.1" y="445.7" font-size="6.3" style="stroke-width:0.05px" text-anchor="end">70</text>
<line x1="367.4" y1="418.5" x2="370.4" y2="418.5" stroke="#222" stroke-width="1"/>
<text x="365.1" y="420.7" font-size="6.3" style="stroke-width:0.05px" text-anchor="end">80</text>
<line x1="367.4" y1="393.5" x2="370.4" y2="393.5" stroke="#222" stroke-width="1"/>
<text x="365.1" y="395.7" font-size="6.3" style="stroke-width:0.05px" text-anchor="end">90</text>
<line x1="367.4" y1="368.5" x2="370.4" y2="368.5" stroke="#222" stroke-width="1"/>
<text x="365.1" y="370.7" font-size="6.3" style="stroke-width:0.05px" text-anchor="end">100</text>
<line x1="367.4" y1="343.5" x2="370.4" y2="343.5" stroke="#222" stroke-width="1"/>
<text x="365.1" y="345.7" font-size="6.3" style="stroke-width:0.05px" text-anchor="end">110</text>
<line x1="370.4" y1="443.5" x2="370.4" y2="445.7" stroke="#222" stroke-width="0.9"/>
<line x1="379.05" y1="443.5" x2="379.05" y2="445.7" stroke="#222" stroke-width="0.9"/>
<line x1="387.7" y1="443.5" x2="387.7" y2="445.7" stroke="#222" stroke-width="0.9"/>
<line x1="396.35" y1="443.5" x2="396.35" y2="445.7" stroke="#222" stroke-width="0.9"/>
<line x1="405" y1="443.5" x2="405" y2="445.7" stroke="#222" stroke-width="0.9"/>
<line x1="413.65" y1="443.5" x2="413.65" y2="445.7" stroke="#222" stroke-width="0.9"/>
<line x1="422.3" y1="443.5" x2="422.3" y2="445.7" stroke="#222" stroke-width="0.9"/>
<line x1="430.95" y1="443.5" x2="430.95" y2="445.7" stroke="#222" stroke-width="0.9"/>
<line x1="439.6" y1="443.5" x2="439.6" y2="445.7" stroke="#222" stroke-width="0.9"/>
<line x1="448.25" y1="443.5" x2="448.25" y2="445.7" stroke="#222" stroke-width="0.9"/>
<line x1="456.9" y1="443.5" x2="456.9" y2="445.7" stroke="#222" stroke-width="0.9"/>
<line x1="465.55" y1="443.5" x2="465.55" y2="445.7" stroke="#222" stroke-width="0.9"/>
<line x1="474.2" y1="443.5" x2="474.2" y2="445.7" stroke="#222" stroke-width="0.9"/>
<line x1="482.85" y1="443.5" x2="482.85" y2="445.7" stroke="#222" stroke-width="0.9"/>
<line x1="491.5" y1="443.5" x2="491.5" y2="445.7" stroke="#222" stroke-width="0.9"/>
<line x1="500.15" y1="443.5" x2="500.15" y2="445.7" stroke="#222" stroke-width="0.9"/>
<text x="370.4" y="455.1" font-size="6.3" style="stroke-width:0.05px" text-anchor="middle">0</text>
<text x="396.35" y="455.1" font-size="6.3" style="stroke-width:0.05px" text-anchor="middle">3</text>
<text x="413.65" y="455.1" font-size="6.3" style="stroke-width:0.05px" text-anchor="middle">5</text>
<text x="430.95" y="455.1" font-size="6.3" style="stroke-width:0.05px" text-anchor="middle">7</text>
<text x="448.25" y="455.1" font-size="6.3" style="stroke-width:0.05px" text-anchor="middle">9</text>
<text x="465.55" y="455.1" font-size="6.3" style="stroke-width:0.05px" text-anchor="middle">11</text>
<text x="482.85" y="455.1" font-size="6.3" style="stroke-width:0.05px" text-anchor="middle">13</text>
<text x="500.15" y="455.1" font-size="6.3" style="stroke-width:0.05px" text-anchor="middle">15</text>
<text x="421.3" y="468.1" font-size="8.8" style="stroke-width:0.3px" textLength="31" lengthAdjust="spacingAndGlyphs">Time (day)</text>
<text x="349.8" y="392" font-size="8.3" style="stroke-width:0.3px" text-anchor="middle" textLength="44" lengthAdjust="spacingAndGlyphs" transform="rotate(-90 349.8 392)">Body weight (%)</text>
<line x1="429" y1="342.1" x2="438" y2="342.1" stroke="#5aa83a" stroke-width="1"/>
<circle cx="433.5" cy="342.1" r="1.67" fill="#5aa83a"/>
<text x="441.3" y="344.1" font-size="5.6" style="stroke-width:0.05px" textLength="21.9" lengthAdjust="spacingAndGlyphs" fill="#222">Live MSC</text>
<line x1="429" y1="350.6" x2="438" y2="350.6" stroke="#5a2a80" stroke-width="1"/>
<circle cx="433.5" cy="350.6" r="1.84" fill="#ece6f2" stroke="#5a2a80" stroke-width="1.1"/>
<text x="441.3" y="352.6" font-size="5.6" style="stroke-width:0.05px" textLength="18.5" lengthAdjust="spacingAndGlyphs" fill="#222">HI MSC</text>
<line x1="429" y1="359.6" x2="438" y2="359.6" stroke="#b0102e" stroke-width="1"/>
<rect x="431.49" y="357.59" width="4.02" height="4.02" rx="0.5" fill="#b0102e"/>
<text x="441.3" y="361.6" font-size="5.6" style="stroke-width:0.05px" textLength="10.8" lengthAdjust="spacingAndGlyphs" fill="#222">PBS</text>
<polyline points="370.4,368.5 379.05,370.5 387.7,364.5 396.35,364.5 405,375.25 413.65,382.25 422.3,393.75 430.95,402.5 439.6,415.5 448.25,413.5 456.9,418 465.55,420.5 474.2,418 482.85,411.25 491.5,404.5 500.15,403" fill="none" stroke="#b0102e" stroke-width="1" stroke-linejoin="round"/>
<line x1="379.05" y1="370.5" x2="379.05" y2="368" stroke="#111" stroke-width="0.8"/>
<line x1="377.45" y1="368" x2="380.65" y2="368" stroke="#111" stroke-width="0.8"/>
<line x1="379.05" y1="370.5" x2="379.05" y2="373" stroke="#111" stroke-width="0.8"/>
<line x1="377.45" y1="373" x2="380.65" y2="373" stroke="#111" stroke-width="0.8"/>
<line x1="387.7" y1="364.5" x2="387.7" y2="362" stroke="#111" stroke-width="0.8"/>
<line x1="386.1" y1="362" x2="389.3" y2="362" stroke="#111" stroke-width="0.8"/>
<line x1="387.7" y1="364.5" x2="387.7" y2="367" stroke="#111" stroke-width="0.8"/>
<line x1="386.1" y1="367" x2="389.3" y2="367" stroke="#111" stroke-width="0.8"/>
<line x1="396.35" y1="364.5" x2="396.35" y2="355.75" stroke="#111" stroke-width="0.8"/>
<line x1="394.75" y1="355.75" x2="397.95" y2="355.75" stroke="#111" stroke-width="0.8"/>
<line x1="396.35" y1="364.5" x2="396.35" y2="373.25" stroke="#111" stroke-width="0.8"/>
<line x1="394.75" y1="373.25" x2="397.95" y2="373.25" stroke="#111" stroke-width="0.8"/>
<line x1="405" y1="375.25" x2="405" y2="372.75" stroke="#111" stroke-width="0.8"/>
<line x1="403.4" y1="372.75" x2="406.6" y2="372.75" stroke="#111" stroke-width="0.8"/>
<line x1="405" y1="375.25" x2="405" y2="377.75" stroke="#111" stroke-width="0.8"/>
<line x1="403.4" y1="377.75" x2="406.6" y2="377.75" stroke="#111" stroke-width="0.8"/>
<line x1="413.65" y1="382.25" x2="413.65" y2="379.75" stroke="#111" stroke-width="0.8"/>
<line x1="412.05" y1="379.75" x2="415.25" y2="379.75" stroke="#111" stroke-width="0.8"/>
<line x1="413.65" y1="382.25" x2="413.65" y2="384.75" stroke="#111" stroke-width="0.8"/>
<line x1="412.05" y1="384.75" x2="415.25" y2="384.75" stroke="#111" stroke-width="0.8"/>
<line x1="422.3" y1="393.75" x2="422.3" y2="389.25" stroke="#111" stroke-width="0.8"/>
<line x1="420.7" y1="389.25" x2="423.9" y2="389.25" stroke="#111" stroke-width="0.8"/>
<line x1="422.3" y1="393.75" x2="422.3" y2="398.25" stroke="#111" stroke-width="0.8"/>
<line x1="420.7" y1="398.25" x2="423.9" y2="398.25" stroke="#111" stroke-width="0.8"/>
<line x1="430.95" y1="402.5" x2="430.95" y2="398.75" stroke="#111" stroke-width="0.8"/>
<line x1="429.35" y1="398.75" x2="432.55" y2="398.75" stroke="#111" stroke-width="0.8"/>
<line x1="430.95" y1="402.5" x2="430.95" y2="406.25" stroke="#111" stroke-width="0.8"/>
<line x1="429.35" y1="406.25" x2="432.55" y2="406.25" stroke="#111" stroke-width="0.8"/>
<line x1="439.6" y1="415.5" x2="439.6" y2="411.75" stroke="#111" stroke-width="0.8"/>
<line x1="438" y1="411.75" x2="441.2" y2="411.75" stroke="#111" stroke-width="0.8"/>
<line x1="439.6" y1="415.5" x2="439.6" y2="419.25" stroke="#111" stroke-width="0.8"/>
<line x1="438" y1="419.25" x2="441.2" y2="419.25" stroke="#111" stroke-width="0.8"/>
<line x1="448.25" y1="413.5" x2="448.25" y2="410.5" stroke="#111" stroke-width="0.8"/>
<line x1="446.65" y1="410.5" x2="449.85" y2="410.5" stroke="#111" stroke-width="0.8"/>
<line x1="448.25" y1="413.5" x2="448.25" y2="416.5" stroke="#111" stroke-width="0.8"/>
<line x1="446.65" y1="416.5" x2="449.85" y2="416.5" stroke="#111" stroke-width="0.8"/>
<line x1="456.9" y1="418" x2="456.9" y2="411.75" stroke="#111" stroke-width="0.8"/>
<line x1="455.3" y1="411.75" x2="458.5" y2="411.75" stroke="#111" stroke-width="0.8"/>
<line x1="456.9" y1="418" x2="456.9" y2="424.25" stroke="#111" stroke-width="0.8"/>
<line x1="455.3" y1="424.25" x2="458.5" y2="424.25" stroke="#111" stroke-width="0.8"/>
<line x1="465.55" y1="420.5" x2="465.55" y2="416.75" stroke="#111" stroke-width="0.8"/>
<line x1="463.95" y1="416.75" x2="467.15" y2="416.75" stroke="#111" stroke-width="0.8"/>
<line x1="465.55" y1="420.5" x2="465.55" y2="424.25" stroke="#111" stroke-width="0.8"/>
<line x1="463.95" y1="424.25" x2="467.15" y2="424.25" stroke="#111" stroke-width="0.8"/>
<line x1="474.2" y1="418" x2="474.2" y2="409.25" stroke="#111" stroke-width="0.8"/>
<line x1="472.6" y1="409.25" x2="475.8" y2="409.25" stroke="#111" stroke-width="0.8"/>
<line x1="474.2" y1="418" x2="474.2" y2="426.75" stroke="#111" stroke-width="0.8"/>
<line x1="472.6" y1="426.75" x2="475.8" y2="426.75" stroke="#111" stroke-width="0.8"/>
<line x1="482.85" y1="411.25" x2="482.85" y2="403.75" stroke="#111" stroke-width="0.8"/>
<line x1="481.25" y1="403.75" x2="484.45" y2="403.75" stroke="#111" stroke-width="0.8"/>
<line x1="482.85" y1="411.25" x2="482.85" y2="418.75" stroke="#111" stroke-width="0.8"/>
<line x1="481.25" y1="418.75" x2="484.45" y2="418.75" stroke="#111" stroke-width="0.8"/>
<line x1="491.5" y1="404.5" x2="491.5" y2="393.25" stroke="#111" stroke-width="0.8"/>
<line x1="489.9" y1="393.25" x2="493.1" y2="393.25" stroke="#111" stroke-width="0.8"/>
<line x1="491.5" y1="404.5" x2="491.5" y2="415.75" stroke="#111" stroke-width="0.8"/>
<line x1="489.9" y1="415.75" x2="493.1" y2="415.75" stroke="#111" stroke-width="0.8"/>
<line x1="500.15" y1="403" x2="500.15" y2="394.25" stroke="#111" stroke-width="0.8"/>
<line x1="498.55" y1="394.25" x2="501.75" y2="394.25" stroke="#111" stroke-width="0.8"/>
<line x1="500.15" y1="403" x2="500.15" y2="411.75" stroke="#111" stroke-width="0.8"/>
<line x1="498.55" y1="411.75" x2="501.75" y2="411.75" stroke="#111" stroke-width="0.8"/>
<rect x="368.65" y="366.75" width="3.5" height="3.5" rx="0.5" fill="#b0102e"/>
<rect x="377.3" y="368.75" width="3.5" height="3.5" rx="0.5" fill="#b0102e"/>
<rect x="385.95" y="362.75" width="3.5" height="3.5" rx="0.5" fill="#b0102e"/>
<rect x="394.6" y="362.75" width="3.5" height="3.5" rx="0.5" fill="#b0102e"/>
<rect x="403.25" y="373.5" width="3.5" height="3.5" rx="0.5" fill="#b0102e"/>
<rect x="411.9" y="380.5" width="3.5" height="3.5" rx="0.5" fill="#b0102e"/>
<rect x="420.55" y="392" width="3.5" height="3.5" rx="0.5" fill="#b0102e"/>
<rect x="429.2" y="400.75" width="3.5" height="3.5" rx="0.5" fill="#b0102e"/>
<rect x="437.85" y="413.75" width="3.5" height="3.5" rx="0.5" fill="#b0102e"/>
<rect x="446.5" y="411.75" width="3.5" height="3.5" rx="0.5" fill="#b0102e"/>
<rect x="455.15" y="416.25" width="3.5" height="3.5" rx="0.5" fill="#b0102e"/>
<rect x="463.8" y="418.75" width="3.5" height="3.5" rx="0.5" fill="#b0102e"/>
<rect x="472.45" y="416.25" width="3.5" height="3.5" rx="0.5" fill="#b0102e"/>
<rect x="481.1" y="409.5" width="3.5" height="3.5" rx="0.5" fill="#b0102e"/>
<rect x="489.75" y="402.75" width="3.5" height="3.5" rx="0.5" fill="#b0102e"/>
<rect x="498.4" y="401.25" width="3.5" height="3.5" rx="0.5" fill="#b0102e"/>
<polyline points="370.4,368.5 379.05,363.75 387.7,362 396.35,368.75 405,384.75 413.65,378.75 422.3,382.25 430.95,391 439.6,403.5 448.25,403 456.9,411.5 465.55,418 474.2,426.5 482.85,410.75 491.5,397.75 500.15,397" fill="none" stroke="#5a2a80" stroke-width="1" stroke-linejoin="round"/>
<line x1="379.05" y1="363.75" x2="379.05" y2="360" stroke="#111" stroke-width="0.8"/>
<line x1="377.45" y1="360" x2="380.65" y2="360" stroke="#111" stroke-width="0.8"/>
<line x1="379.05" y1="363.75" x2="379.05" y2="367.5" stroke="#111" stroke-width="0.8"/>
<line x1="377.45" y1="367.5" x2="380.65" y2="367.5" stroke="#111" stroke-width="0.8"/>
<line x1="387.7" y1="362" x2="387.7" y2="358.25" stroke="#111" stroke-width="0.8"/>
<line x1="386.1" y1="358.25" x2="389.3" y2="358.25" stroke="#111" stroke-width="0.8"/>
<line x1="387.7" y1="362" x2="387.7" y2="365.75" stroke="#111" stroke-width="0.8"/>
<line x1="386.1" y1="365.75" x2="389.3" y2="365.75" stroke="#111" stroke-width="0.8"/>
<line x1="396.35" y1="368.75" x2="396.35" y2="365" stroke="#111" stroke-width="0.8"/>
<line x1="394.75" y1="365" x2="397.95" y2="365" stroke="#111" stroke-width="0.8"/>
<line x1="396.35" y1="368.75" x2="396.35" y2="372.5" stroke="#111" stroke-width="0.8"/>
<line x1="394.75" y1="372.5" x2="397.95" y2="372.5" stroke="#111" stroke-width="0.8"/>
<line x1="405" y1="384.75" x2="405" y2="381.5" stroke="#111" stroke-width="0.8"/>
<line x1="403.4" y1="381.5" x2="406.6" y2="381.5" stroke="#111" stroke-width="0.8"/>
<line x1="405" y1="384.75" x2="405" y2="388" stroke="#111" stroke-width="0.8"/>
<line x1="403.4" y1="388" x2="406.6" y2="388" stroke="#111" stroke-width="0.8"/>
<line x1="413.65" y1="378.75" x2="413.65" y2="376.25" stroke="#111" stroke-width="0.8"/>
<line x1="412.05" y1="376.25" x2="415.25" y2="376.25" stroke="#111" stroke-width="0.8"/>
<line x1="413.65" y1="378.75" x2="413.65" y2="381.25" stroke="#111" stroke-width="0.8"/>
<line x1="412.05" y1="381.25" x2="415.25" y2="381.25" stroke="#111" stroke-width="0.8"/>
<line x1="422.3" y1="382.25" x2="422.3" y2="378.5" stroke="#111" stroke-width="0.8"/>
<line x1="420.7" y1="378.5" x2="423.9" y2="378.5" stroke="#111" stroke-width="0.8"/>
<line x1="422.3" y1="382.25" x2="422.3" y2="386" stroke="#111" stroke-width="0.8"/>
<line x1="420.7" y1="386" x2="423.9" y2="386" stroke="#111" stroke-width="0.8"/>
<line x1="430.95" y1="391" x2="430.95" y2="387.75" stroke="#111" stroke-width="0.8"/>
<line x1="429.35" y1="387.75" x2="432.55" y2="387.75" stroke="#111" stroke-width="0.8"/>
<line x1="430.95" y1="391" x2="430.95" y2="394.25" stroke="#111" stroke-width="0.8"/>
<line x1="429.35" y1="394.25" x2="432.55" y2="394.25" stroke="#111" stroke-width="0.8"/>
<line x1="439.6" y1="403.5" x2="439.6" y2="399.75" stroke="#111" stroke-width="0.8"/>
<line x1="438" y1="399.75" x2="441.2" y2="399.75" stroke="#111" stroke-width="0.8"/>
<line x1="439.6" y1="403.5" x2="439.6" y2="407.25" stroke="#111" stroke-width="0.8"/>
<line x1="438" y1="407.25" x2="441.2" y2="407.25" stroke="#111" stroke-width="0.8"/>
<line x1="448.25" y1="403" x2="448.25" y2="399.25" stroke="#111" stroke-width="0.8"/>
<line x1="446.65" y1="399.25" x2="449.85" y2="399.25" stroke="#111" stroke-width="0.8"/>
<line x1="448.25" y1="403" x2="448.25" y2="406.75" stroke="#111" stroke-width="0.8"/>
<line x1="446.65" y1="406.75" x2="449.85" y2="406.75" stroke="#111" stroke-width="0.8"/>
<line x1="456.9" y1="411.5" x2="456.9" y2="407.75" stroke="#111" stroke-width="0.8"/>
<line x1="455.3" y1="407.75" x2="458.5" y2="407.75" stroke="#111" stroke-width="0.8"/>
<line x1="456.9" y1="411.5" x2="456.9" y2="415.25" stroke="#111" stroke-width="0.8"/>
<line x1="455.3" y1="415.25" x2="458.5" y2="415.25" stroke="#111" stroke-width="0.8"/>
<line x1="465.55" y1="418" x2="465.55" y2="415.5" stroke="#111" stroke-width="0.8"/>
<line x1="463.95" y1="415.5" x2="467.15" y2="415.5" stroke="#111" stroke-width="0.8"/>
<line x1="465.55" y1="418" x2="465.55" y2="420.5" stroke="#111" stroke-width="0.8"/>
<line x1="463.95" y1="420.5" x2="467.15" y2="420.5" stroke="#111" stroke-width="0.8"/>
<line x1="474.2" y1="426.5" x2="474.2" y2="420.75" stroke="#111" stroke-width="0.8"/>
<line x1="472.6" y1="420.75" x2="475.8" y2="420.75" stroke="#111" stroke-width="0.8"/>
<line x1="474.2" y1="426.5" x2="474.2" y2="432.25" stroke="#111" stroke-width="0.8"/>
<line x1="472.6" y1="432.25" x2="475.8" y2="432.25" stroke="#111" stroke-width="0.8"/>
<line x1="482.85" y1="410.75" x2="482.85" y2="405.75" stroke="#111" stroke-width="0.8"/>
<line x1="481.25" y1="405.75" x2="484.45" y2="405.75" stroke="#111" stroke-width="0.8"/>
<line x1="482.85" y1="410.75" x2="482.85" y2="415.75" stroke="#111" stroke-width="0.8"/>
<line x1="481.25" y1="415.75" x2="484.45" y2="415.75" stroke="#111" stroke-width="0.8"/>
<line x1="491.5" y1="397.75" x2="491.5" y2="393.25" stroke="#111" stroke-width="0.8"/>
<line x1="489.9" y1="393.25" x2="493.1" y2="393.25" stroke="#111" stroke-width="0.8"/>
<line x1="491.5" y1="397.75" x2="491.5" y2="402.25" stroke="#111" stroke-width="0.8"/>
<line x1="489.9" y1="402.25" x2="493.1" y2="402.25" stroke="#111" stroke-width="0.8"/>
<line x1="500.15" y1="397" x2="500.15" y2="393.75" stroke="#111" stroke-width="0.8"/>
<line x1="498.55" y1="393.75" x2="501.75" y2="393.75" stroke="#111" stroke-width="0.8"/>
<line x1="500.15" y1="397" x2="500.15" y2="400.25" stroke="#111" stroke-width="0.8"/>
<line x1="498.55" y1="400.25" x2="501.75" y2="400.25" stroke="#111" stroke-width="0.8"/>
<circle cx="370.4" cy="368.5" r="1.6" fill="#ece6f2" stroke="#5a2a80" stroke-width="1.1"/>
<circle cx="379.05" cy="363.75" r="1.6" fill="#ece6f2" stroke="#5a2a80" stroke-width="1.1"/>
<circle cx="387.7" cy="362" r="1.6" fill="#ece6f2" stroke="#5a2a80" stroke-width="1.1"/>
<circle cx="396.35" cy="368.75" r="1.6" fill="#ece6f2" stroke="#5a2a80" stroke-width="1.1"/>
<circle cx="405" cy="384.75" r="1.6" fill="#ece6f2" stroke="#5a2a80" stroke-width="1.1"/>
<circle cx="413.65" cy="378.75" r="1.6" fill="#ece6f2" stroke="#5a2a80" stroke-width="1.1"/>
<circle cx="422.3" cy="382.25" r="1.6" fill="#ece6f2" stroke="#5a2a80" stroke-width="1.1"/>
<circle cx="430.95" cy="391" r="1.6" fill="#ece6f2" stroke="#5a2a80" stroke-width="1.1"/>
<circle cx="439.6" cy="403.5" r="1.6" fill="#ece6f2" stroke="#5a2a80" stroke-width="1.1"/>
<circle cx="448.25" cy="403" r="1.6" fill="#ece6f2" stroke="#5a2a80" stroke-width="1.1"/>
<circle cx="456.9" cy="411.5" r="1.6" fill="#ece6f2" stroke="#5a2a80" stroke-width="1.1"/>
<circle cx="465.55" cy="418" r="1.6" fill="#ece6f2" stroke="#5a2a80" stroke-width="1.1"/>
<circle cx="474.2" cy="426.5" r="1.6" fill="#ece6f2" stroke="#5a2a80" stroke-width="1.1"/>
<circle cx="482.85" cy="410.75" r="1.6" fill="#ece6f2" stroke="#5a2a80" stroke-width="1.1"/>
<circle cx="491.5" cy="397.75" r="1.6" fill="#ece6f2" stroke="#5a2a80" stroke-width="1.1"/>
<circle cx="500.15" cy="397" r="1.6" fill="#ece6f2" stroke="#5a2a80" stroke-width="1.1"/>
<polyline points="370.4,368.5 379.05,374.25 387.7,366.5 396.35,369.5 405,392.5 413.65,378.5 422.3,383.25 430.95,387.5 439.6,392 448.25,397.75 456.9,399.5 465.55,402 474.2,392.25 482.85,382.75 491.5,376.25 500.15,360.25" fill="none" stroke="#5aa83a" stroke-width="1" stroke-linejoin="round"/>
<line x1="379.05" y1="374.25" x2="379.05" y2="371.75" stroke="#111" stroke-width="0.8"/>
<line x1="377.45" y1="371.75" x2="380.65" y2="371.75" stroke="#111" stroke-width="0.8"/>
<line x1="379.05" y1="374.25" x2="379.05" y2="376.75" stroke="#111" stroke-width="0.8"/>
<line x1="377.45" y1="376.75" x2="380.65" y2="376.75" stroke="#111" stroke-width="0.8"/>
<line x1="387.7" y1="366.5" x2="387.7" y2="364" stroke="#111" stroke-width="0.8"/>
<line x1="386.1" y1="364" x2="389.3" y2="364" stroke="#111" stroke-width="0.8"/>
<line x1="387.7" y1="366.5" x2="387.7" y2="369" stroke="#111" stroke-width="0.8"/>
<line x1="386.1" y1="369" x2="389.3" y2="369" stroke="#111" stroke-width="0.8"/>
<line x1="396.35" y1="369.5" x2="396.35" y2="365.75" stroke="#111" stroke-width="0.8"/>
<line x1="394.75" y1="365.75" x2="397.95" y2="365.75" stroke="#111" stroke-width="0.8"/>
<line x1="396.35" y1="369.5" x2="396.35" y2="373.25" stroke="#111" stroke-width="0.8"/>
<line x1="394.75" y1="373.25" x2="397.95" y2="373.25" stroke="#111" stroke-width="0.8"/>
<line x1="405" y1="392.5" x2="405" y2="389.25" stroke="#111" stroke-width="0.8"/>
<line x1="403.4" y1="389.25" x2="406.6" y2="389.25" stroke="#111" stroke-width="0.8"/>
<line x1="405" y1="392.5" x2="405" y2="395.75" stroke="#111" stroke-width="0.8"/>
<line x1="403.4" y1="395.75" x2="406.6" y2="395.75" stroke="#111" stroke-width="0.8"/>
<line x1="413.65" y1="378.5" x2="413.65" y2="374.75" stroke="#111" stroke-width="0.8"/>
<line x1="412.05" y1="374.75" x2="415.25" y2="374.75" stroke="#111" stroke-width="0.8"/>
<line x1="413.65" y1="378.5" x2="413.65" y2="382.25" stroke="#111" stroke-width="0.8"/>
<line x1="412.05" y1="382.25" x2="415.25" y2="382.25" stroke="#111" stroke-width="0.8"/>
<line x1="422.3" y1="383.25" x2="422.3" y2="378.25" stroke="#111" stroke-width="0.8"/>
<line x1="420.7" y1="378.25" x2="423.9" y2="378.25" stroke="#111" stroke-width="0.8"/>
<line x1="422.3" y1="383.25" x2="422.3" y2="388.25" stroke="#111" stroke-width="0.8"/>
<line x1="420.7" y1="388.25" x2="423.9" y2="388.25" stroke="#111" stroke-width="0.8"/>
<line x1="430.95" y1="387.5" x2="430.95" y2="385" stroke="#111" stroke-width="0.8"/>
<line x1="429.35" y1="385" x2="432.55" y2="385" stroke="#111" stroke-width="0.8"/>
<line x1="430.95" y1="387.5" x2="430.95" y2="390" stroke="#111" stroke-width="0.8"/>
<line x1="429.35" y1="390" x2="432.55" y2="390" stroke="#111" stroke-width="0.8"/>
<line x1="439.6" y1="392" x2="439.6" y2="390.5" stroke="#111" stroke-width="0.8"/>
<line x1="438" y1="390.5" x2="441.2" y2="390.5" stroke="#111" stroke-width="0.8"/>
<line x1="439.6" y1="392" x2="439.6" y2="393.5" stroke="#111" stroke-width="0.8"/>
<line x1="438" y1="393.5" x2="441.2" y2="393.5" stroke="#111" stroke-width="0.8"/>
<line x1="448.25" y1="397.75" x2="448.25" y2="395.75" stroke="#111" stroke-width="0.8"/>
<line x1="446.65" y1="395.75" x2="449.85" y2="395.75" stroke="#111" stroke-width="0.8"/>
<line x1="448.25" y1="397.75" x2="448.25" y2="399.75" stroke="#111" stroke-width="0.8"/>
<line x1="446.65" y1="399.75" x2="449.85" y2="399.75" stroke="#111" stroke-width="0.8"/>
<line x1="456.9" y1="399.5" x2="456.9" y2="397" stroke="#111" stroke-width="0.8"/>
<line x1="455.3" y1="397" x2="458.5" y2="397" stroke="#111" stroke-width="0.8"/>
<line x1="456.9" y1="399.5" x2="456.9" y2="402" stroke="#111" stroke-width="0.8"/>
<line x1="455.3" y1="402" x2="458.5" y2="402" stroke="#111" stroke-width="0.8"/>
<line x1="465.55" y1="402" x2="465.55" y2="398.25" stroke="#111" stroke-width="0.8"/>
<line x1="463.95" y1="398.25" x2="467.15" y2="398.25" stroke="#111" stroke-width="0.8"/>
<line x1="465.55" y1="402" x2="465.55" y2="405.75" stroke="#111" stroke-width="0.8"/>
<line x1="463.95" y1="405.75" x2="467.15" y2="405.75" stroke="#111" stroke-width="0.8"/>
<line x1="474.2" y1="392.25" x2="474.2" y2="388.5" stroke="#111" stroke-width="0.8"/>
<line x1="472.6" y1="388.5" x2="475.8" y2="388.5" stroke="#111" stroke-width="0.8"/>
<line x1="474.2" y1="392.25" x2="474.2" y2="396" stroke="#111" stroke-width="0.8"/>
<line x1="472.6" y1="396" x2="475.8" y2="396" stroke="#111" stroke-width="0.8"/>
<line x1="482.85" y1="382.75" x2="482.85" y2="377.75" stroke="#111" stroke-width="0.8"/>
<line x1="481.25" y1="377.75" x2="484.45" y2="377.75" stroke="#111" stroke-width="0.8"/>
<line x1="482.85" y1="382.75" x2="482.85" y2="387.75" stroke="#111" stroke-width="0.8"/>
<line x1="481.25" y1="387.75" x2="484.45" y2="387.75" stroke="#111" stroke-width="0.8"/>
<line x1="500.15" y1="360.25" x2="500.15" y2="354.75" stroke="#111" stroke-width="0.8"/>
<line x1="498.55" y1="354.75" x2="501.75" y2="354.75" stroke="#111" stroke-width="0.8"/>
<line x1="500.15" y1="360.25" x2="500.15" y2="365.75" stroke="#111" stroke-width="0.8"/>
<line x1="498.55" y1="365.75" x2="501.75" y2="365.75" stroke="#111" stroke-width="0.8"/>
<circle cx="370.4" cy="368.5" r="1.45" fill="#5aa83a"/>
<circle cx="379.05" cy="374.25" r="1.45" fill="#5aa83a"/>
<circle cx="387.7" cy="366.5" r="1.45" fill="#5aa83a"/>
<circle cx="396.35" cy="369.5" r="1.45" fill="#5aa83a"/>
<circle cx="405" cy="392.5" r="1.45" fill="#5aa83a"/>
<circle cx="413.65" cy="378.5" r="1.45" fill="#5aa83a"/>
<circle cx="422.3" cy="383.25" r="1.45" fill="#5aa83a"/>
<circle cx="430.95" cy="387.5" r="1.45" fill="#5aa83a"/>
<circle cx="439.6" cy="392" r="1.45" fill="#5aa83a"/>
<circle cx="448.25" cy="397.75" r="1.45" fill="#5aa83a"/>
<circle cx="456.9" cy="399.5" r="1.45" fill="#5aa83a"/>
<circle cx="465.55" cy="402" r="1.45" fill="#5aa83a"/>
<circle cx="474.2" cy="392.25" r="1.45" fill="#5aa83a"/>
<circle cx="482.85" cy="382.75" r="1.45" fill="#5aa83a"/>
<circle cx="491.5" cy="376.25" r="1.45" fill="#5aa83a"/>
<circle cx="500.15" cy="360.25" r="1.45" fill="#5aa83a"/>
<path d="M508.8,357.9 H513.8 V397.3 H508.8" stroke="#222" stroke-width="1" fill="none"/>
<text x="509.9" y="357.48" font-size="6" style="stroke-width:0px" text-anchor="middle" fill="#333">****</text>
<text x="8" y="175" font-size="11" font-weight="bold" fill="#000">D</text>
<line x1="36.2" y1="191.37" x2="36.2" y2="289.2" stroke="#111" stroke-width="1.3"/>
<line x1="35.6" y1="289.2" x2="165" y2="289.2" stroke="#111" stroke-width="1.4"/>
<line x1="32.9" y1="289.2" x2="36.2" y2="289.2" stroke="#222" stroke-width="1"/>
<text x="30.2" y="291.5" font-size="6.5" style="stroke-width:0.02px" text-anchor="end" fill="#222">0</text>
<line x1="32.9" y1="265.34" x2="36.2" y2="265.34" stroke="#222" stroke-width="1"/>
<text x="30.2" y="267.64" font-size="6.5" style="stroke-width:0.02px" text-anchor="end" fill="#222">2</text>
<line x1="32.9" y1="241.48" x2="36.2" y2="241.48" stroke="#222" stroke-width="1"/>
<text x="30.2" y="243.78" font-size="6.5" style="stroke-width:0.02px" text-anchor="end" fill="#222">4</text>
<line x1="32.9" y1="217.62" x2="36.2" y2="217.62" stroke="#222" stroke-width="1"/>
<text x="30.2" y="219.92" font-size="6.5" style="stroke-width:0.02px" text-anchor="end" fill="#222">6</text>
<line x1="32.9" y1="193.76" x2="36.2" y2="193.76" stroke="#222" stroke-width="1"/>
<text x="30.2" y="196.06" font-size="6.5" style="stroke-width:0.02px" text-anchor="end" fill="#222">8</text>
<line x1="36.2" y1="289.2" x2="36.2" y2="291.4" stroke="#222" stroke-width="0.9"/>
<line x1="44.6" y1="289.2" x2="44.6" y2="291.4" stroke="#222" stroke-width="0.9"/>
<line x1="53" y1="289.2" x2="53" y2="291.4" stroke="#222" stroke-width="0.9"/>
<line x1="61.4" y1="289.2" x2="61.4" y2="291.4" stroke="#222" stroke-width="0.9"/>
<line x1="69.8" y1="289.2" x2="69.8" y2="291.4" stroke="#222" stroke-width="0.9"/>
<line x1="78.2" y1="289.2" x2="78.2" y2="291.4" stroke="#222" stroke-width="0.9"/>
<line x1="86.6" y1="289.2" x2="86.6" y2="291.4" stroke="#222" stroke-width="0.9"/>
<line x1="95" y1="289.2" x2="95" y2="291.4" stroke="#222" stroke-width="0.9"/>
<line x1="103.4" y1="289.2" x2="103.4" y2="291.4" stroke="#222" stroke-width="0.9"/>
<line x1="111.8" y1="289.2" x2="111.8" y2="291.4" stroke="#222" stroke-width="0.9"/>
<line x1="120.2" y1="289.2" x2="120.2" y2="291.4" stroke="#222" stroke-width="0.9"/>
<line x1="128.6" y1="289.2" x2="128.6" y2="291.4" stroke="#222" stroke-width="0.9"/>
<line x1="137" y1="289.2" x2="137" y2="291.4" stroke="#222" stroke-width="0.9"/>
<line x1="145.4" y1="289.2" x2="145.4" y2="291.4" stroke="#222" stroke-width="0.9"/>
<line x1="153.8" y1="289.2" x2="153.8" y2="291.4" stroke="#222" stroke-width="0.9"/>
<line x1="162.2" y1="289.2" x2="162.2" y2="291.4" stroke="#222" stroke-width="0.9"/>
<text x="36.2" y="300.8" font-size="6.3" style="stroke-width:0.05px" text-anchor="middle">0</text>
<text x="61.4" y="300.8" font-size="6.3" style="stroke-width:0.05px" text-anchor="middle">3</text>
<text x="78.2" y="300.8" font-size="6.3" style="stroke-width:0.05px" text-anchor="middle">5</text>
<text x="95" y="300.8" font-size="6.3" style="stroke-width:0.05px" text-anchor="middle">7</text>
<text x="111.8" y="300.8" font-size="6.3" style="stroke-width:0.05px" text-anchor="middle">9</text>
<text x="128.6" y="300.8" font-size="6.3" style="stroke-width:0.05px" text-anchor="middle">11</text>
<text x="145.4" y="300.8" font-size="6.3" style="stroke-width:0.05px" text-anchor="middle">13</text>
<text x="162.2" y="300.8" font-size="6.3" style="stroke-width:0.05px" text-anchor="middle">15</text>
<text x="86.9" y="312.6" font-size="8.8" style="stroke-width:0.3px" textLength="28.1" lengthAdjust="spacingAndGlyphs">Time (day)</text>
<text x="21.2" y="240.29" font-size="8.3" text-anchor="middle" textLength="8.8" lengthAdjust="spacingAndGlyphs" transform="rotate(-90 21.2 240.29)">DAI</text>
<line x1="43.8" y1="192.6" x2="52.8" y2="192.6" stroke="#5aa83a" stroke-width="1"/>
<circle cx="48.3" cy="192.6" r="1.67" fill="#5aa83a"/>
<text x="56.1" y="194.6" font-size="5.6" style="stroke-width:0.05px" textLength="21.9" lengthAdjust="spacingAndGlyphs" fill="#222">Live MSC</text>
<line x1="43.8" y1="201.8" x2="52.8" y2="201.8" stroke="#2a4a86" stroke-width="1"/>
<path d="M48.3,199.39 L50.71,203.73 L45.88,203.73 Z" fill="#2a4a86"/>
<text x="56.1" y="203.8" font-size="5.6" style="stroke-width:0.05px" textLength="31.1" lengthAdjust="spacingAndGlyphs" fill="#222">Thawed MSC</text>
<line x1="43.8" y1="210.8" x2="52.8" y2="210.8" stroke="#b0102e" stroke-width="1"/>
<rect x="46.29" y="208.79" width="4.02" height="4.02" rx="0.5" fill="#b0102e"/>
<text x="56.1" y="212.8" font-size="5.6" style="stroke-width:0.05px" textLength="10.8" lengthAdjust="spacingAndGlyphs" fill="#222">PBS</text>
<polyline points="36.2,289.2 44.6,289.2 53,281.8 61.4,272.5 69.8,262.95 78.2,251.02 86.6,243.87 95,232.53 103.4,222.15 111.8,229.91 120.2,224.9 128.6,222.39 137,229.55 145.4,239.09 153.8,246.37 162.2,255.8" fill="none" stroke="#b0102e" stroke-width="1" stroke-linejoin="round"/>
<line x1="44.6" y1="289.2" x2="44.6" y2="286.81" stroke="#111" stroke-width="0.8"/>
<line x1="43" y1="286.81" x2="46.2" y2="286.81" stroke="#111" stroke-width="0.8"/>
<line x1="53" y1="281.8" x2="53" y2="278.82" stroke="#111" stroke-width="0.8"/>
<line x1="51.4" y1="278.82" x2="54.6" y2="278.82" stroke="#111" stroke-width="0.8"/>
<line x1="61.4" y1="272.5" x2="61.4" y2="269.52" stroke="#111" stroke-width="0.8"/>
<line x1="59.8" y1="269.52" x2="63" y2="269.52" stroke="#111" stroke-width="0.8"/>
<line x1="69.8" y1="262.95" x2="69.8" y2="259.38" stroke="#111" stroke-width="0.8"/>
<line x1="68.2" y1="259.38" x2="71.4" y2="259.38" stroke="#111" stroke-width="0.8"/>
<line x1="78.2" y1="251.02" x2="78.2" y2="247.44" stroke="#111" stroke-width="0.8"/>
<line x1="76.6" y1="247.44" x2="79.8" y2="247.44" stroke="#111" stroke-width="0.8"/>
<line x1="86.6" y1="243.87" x2="86.6" y2="240.29" stroke="#111" stroke-width="0.8"/>
<line x1="85" y1="240.29" x2="88.2" y2="240.29" stroke="#111" stroke-width="0.8"/>
<line x1="95" y1="232.53" x2="95" y2="227.76" stroke="#111" stroke-width="0.8"/>
<line x1="93.4" y1="227.76" x2="96.6" y2="227.76" stroke="#111" stroke-width="0.8"/>
<line x1="103.4" y1="222.15" x2="103.4" y2="218.57" stroke="#111" stroke-width="0.8"/>
<line x1="101.8" y1="218.57" x2="105" y2="218.57" stroke="#111" stroke-width="0.8"/>
<line x1="111.8" y1="229.91" x2="111.8" y2="222.75" stroke="#111" stroke-width="0.8"/>
<line x1="110.2" y1="222.75" x2="113.4" y2="222.75" stroke="#111" stroke-width="0.8"/>
<line x1="120.2" y1="224.9" x2="120.2" y2="221.32" stroke="#111" stroke-width="0.8"/>
<line x1="118.6" y1="221.32" x2="121.8" y2="221.32" stroke="#111" stroke-width="0.8"/>
<line x1="128.6" y1="222.39" x2="128.6" y2="220.01" stroke="#111" stroke-width="0.8"/>
<line x1="127" y1="220.01" x2="130.2" y2="220.01" stroke="#111" stroke-width="0.8"/>
<line x1="137" y1="229.55" x2="137" y2="224.78" stroke="#111" stroke-width="0.8"/>
<line x1="135.4" y1="224.78" x2="138.6" y2="224.78" stroke="#111" stroke-width="0.8"/>
<line x1="145.4" y1="239.09" x2="145.4" y2="228.95" stroke="#111" stroke-width="0.8"/>
<line x1="143.8" y1="228.95" x2="147" y2="228.95" stroke="#111" stroke-width="0.8"/>
<line x1="153.8" y1="246.37" x2="153.8" y2="242.79" stroke="#111" stroke-width="0.8"/>
<line x1="152.2" y1="242.79" x2="155.4" y2="242.79" stroke="#111" stroke-width="0.8"/>
<line x1="162.2" y1="255.8" x2="162.2" y2="252.22" stroke="#111" stroke-width="0.8"/>
<line x1="160.6" y1="252.22" x2="163.8" y2="252.22" stroke="#111" stroke-width="0.8"/>
<rect x="34.45" y="287.45" width="3.5" height="3.5" rx="0.5" fill="#b0102e"/>
<rect x="42.85" y="287.45" width="3.5" height="3.5" rx="0.5" fill="#b0102e"/>
<rect x="51.25" y="280.05" width="3.5" height="3.5" rx="0.5" fill="#b0102e"/>
<rect x="59.65" y="270.75" width="3.5" height="3.5" rx="0.5" fill="#b0102e"/>
<rect x="68.05" y="261.2" width="3.5" height="3.5" rx="0.5" fill="#b0102e"/>
<rect x="76.45" y="249.27" width="3.5" height="3.5" rx="0.5" fill="#b0102e"/>
<rect x="84.85" y="242.12" width="3.5" height="3.5" rx="0.5" fill="#b0102e"/>
<rect x="93.25" y="230.78" width="3.5" height="3.5" rx="0.5" fill="#b0102e"/>
<rect x="101.65" y="220.4" width="3.5" height="3.5" rx="0.5" fill="#b0102e"/>
<rect x="110.05" y="228.16" width="3.5" height="3.5" rx="0.5" fill="#b0102e"/>
<rect x="118.45" y="223.15" width="3.5" height="3.5" rx="0.5" fill="#b0102e"/>
<rect x="126.85" y="220.64" width="3.5" height="3.5" rx="0.5" fill="#b0102e"/>
<rect x="135.25" y="227.8" width="3.5" height="3.5" rx="0.5" fill="#b0102e"/>
<rect x="143.65" y="237.34" width="3.5" height="3.5" rx="0.5" fill="#b0102e"/>
<rect x="152.05" y="244.62" width="3.5" height="3.5" rx="0.5" fill="#b0102e"/>
<rect x="160.45" y="254.05" width="3.5" height="3.5" rx="0.5" fill="#b0102e"/>
<polyline points="36.2,289.2 44.6,280.25 53,269.52 61.4,253.41 69.8,248.64 78.2,237.3 86.6,234.92 95,223.58 103.4,217.86 111.8,220.96 120.2,220.6 128.6,229.91 137,244.46 145.4,246.49 153.8,256.15 162.2,258.54" fill="none" stroke="#2a4a86" stroke-width="1" stroke-linejoin="round"/>
<line x1="44.6" y1="280.25" x2="44.6" y2="277.87" stroke="#111" stroke-width="0.8"/>
<line x1="43" y1="277.87" x2="46.2" y2="277.87" stroke="#111" stroke-width="0.8"/>
<line x1="53" y1="269.52" x2="53" y2="267.13" stroke="#111" stroke-width="0.8"/>
<line x1="51.4" y1="267.13" x2="54.6" y2="267.13" stroke="#111" stroke-width="0.8"/>
<line x1="61.4" y1="253.41" x2="61.4" y2="246.85" stroke="#111" stroke-width="0.8"/>
<line x1="59.8" y1="246.85" x2="63" y2="246.85" stroke="#111" stroke-width="0.8"/>
<line x1="69.8" y1="248.64" x2="69.8" y2="244.46" stroke="#111" stroke-width="0.8"/>
<line x1="68.2" y1="244.46" x2="71.4" y2="244.46" stroke="#111" stroke-width="0.8"/>
<line x1="78.2" y1="237.3" x2="78.2" y2="233.73" stroke="#111" stroke-width="0.8"/>
<line x1="76.6" y1="233.73" x2="79.8" y2="233.73" stroke="#111" stroke-width="0.8"/>
<line x1="86.6" y1="234.92" x2="86.6" y2="230.15" stroke="#111" stroke-width="0.8"/>
<line x1="85" y1="230.15" x2="88.2" y2="230.15" stroke="#111" stroke-width="0.8"/>
<line x1="95" y1="223.58" x2="95" y2="219.41" stroke="#111" stroke-width="0.8"/>
<line x1="93.4" y1="219.41" x2="96.6" y2="219.41" stroke="#111" stroke-width="0.8"/>
<line x1="103.4" y1="217.86" x2="103.4" y2="216.07" stroke="#111" stroke-width="0.8"/>
<line x1="101.8" y1="216.07" x2="105" y2="216.07" stroke="#111" stroke-width="0.8"/>
<line x1="111.8" y1="220.96" x2="111.8" y2="218.57" stroke="#111" stroke-width="0.8"/>
<line x1="110.2" y1="218.57" x2="113.4" y2="218.57" stroke="#111" stroke-width="0.8"/>
<line x1="120.2" y1="220.6" x2="120.2" y2="218.22" stroke="#111" stroke-width="0.8"/>
<line x1="118.6" y1="218.22" x2="121.8" y2="218.22" stroke="#111" stroke-width="0.8"/>
<line x1="128.6" y1="229.91" x2="128.6" y2="226.33" stroke="#111" stroke-width="0.8"/>
<line x1="127" y1="226.33" x2="130.2" y2="226.33" stroke="#111" stroke-width="0.8"/>
<line x1="137" y1="244.46" x2="137" y2="237.9" stroke="#111" stroke-width="0.8"/>
<line x1="135.4" y1="237.9" x2="138.6" y2="237.9" stroke="#111" stroke-width="0.8"/>
<line x1="145.4" y1="246.49" x2="145.4" y2="242.91" stroke="#111" stroke-width="0.8"/>
<line x1="143.8" y1="242.91" x2="147" y2="242.91" stroke="#111" stroke-width="0.8"/>
<line x1="153.8" y1="256.15" x2="153.8" y2="251.38" stroke="#111" stroke-width="0.8"/>
<line x1="152.2" y1="251.38" x2="155.4" y2="251.38" stroke="#111" stroke-width="0.8"/>
<line x1="162.2" y1="258.54" x2="162.2" y2="254.96" stroke="#111" stroke-width="0.8"/>
<line x1="160.6" y1="254.96" x2="163.8" y2="254.96" stroke="#111" stroke-width="0.8"/>
<path d="M36.2,287.1 L38.3,290.88 L34.1,290.88 Z" fill="#2a4a86"/>
<path d="M44.6,278.15 L46.7,281.93 L42.5,281.93 Z" fill="#2a4a86"/>
<path d="M53,267.42 L55.1,271.2 L50.9,271.2 Z" fill="#2a4a86"/>
<path d="M61.4,251.31 L63.5,255.09 L59.3,255.09 Z" fill="#2a4a86"/>
<path d="M69.8,246.54 L71.9,250.32 L67.7,250.32 Z" fill="#2a4a86"/>
<path d="M78.2,235.2 L80.3,238.98 L76.1,238.98 Z" fill="#2a4a86"/>
<path d="M86.6,232.82 L88.7,236.6 L84.5,236.6 Z" fill="#2a4a86"/>
<path d="M95,221.48 L97.1,225.26 L92.9,225.26 Z" fill="#2a4a86"/>
<path d="M103.4,215.76 L105.5,219.54 L101.3,219.54 Z" fill="#2a4a86"/>
<path d="M111.8,218.86 L113.9,222.64 L109.7,222.64 Z" fill="#2a4a86"/>
<path d="M120.2,218.5 L122.3,222.28 L118.1,222.28 Z" fill="#2a4a86"/>
<path d="M128.6,227.81 L130.7,231.59 L126.5,231.59 Z" fill="#2a4a86"/>
<path d="M137,242.36 L139.1,246.14 L134.9,246.14 Z" fill="#2a4a86"/>
<path d="M145.4,244.39 L147.5,248.17 L143.3,248.17 Z" fill="#2a4a86"/>
<path d="M153.8,254.05 L155.9,257.83 L151.7,257.83 Z" fill="#2a4a86"/>
<path d="M162.2,256.44 L164.3,260.22 L160.1,260.22 Z" fill="#2a4a86"/>
<polyline points="36.2,289.2 44.6,277.27 53,270.11 61.4,268.32 69.8,272.5 78.2,272.5 86.6,270.11 95,251.02 103.4,257.94 111.8,260.45 120.2,255.8 128.6,264.98 137,272.26 145.4,272.26 153.8,272.26 162.2,277.27" fill="none" stroke="#5aa83a" stroke-width="1" stroke-linejoin="round"/>
<line x1="61.4" y1="268.32" x2="61.4" y2="265.34" stroke="#111" stroke-width="0.8"/>
<line x1="59.8" y1="265.34" x2="63" y2="265.34" stroke="#111" stroke-width="0.8"/>
<line x1="69.8" y1="272.5" x2="69.8" y2="270.11" stroke="#111" stroke-width="0.8"/>
<line x1="68.2" y1="270.11" x2="71.4" y2="270.11" stroke="#111" stroke-width="0.8"/>
<line x1="78.2" y1="272.5" x2="78.2" y2="270.11" stroke="#111" stroke-width="0.8"/>
<line x1="76.6" y1="270.11" x2="79.8" y2="270.11" stroke="#111" stroke-width="0.8"/>
<line x1="86.6" y1="270.11" x2="86.6" y2="267.73" stroke="#111" stroke-width="0.8"/>
<line x1="85" y1="267.73" x2="88.2" y2="267.73" stroke="#111" stroke-width="0.8"/>
<line x1="95" y1="251.02" x2="95" y2="248.64" stroke="#111" stroke-width="0.8"/>
<line x1="93.4" y1="248.64" x2="96.6" y2="248.64" stroke="#111" stroke-width="0.8"/>
<line x1="103.4" y1="257.94" x2="103.4" y2="254.96" stroke="#111" stroke-width="0.8"/>
<line x1="101.8" y1="254.96" x2="105" y2="254.96" stroke="#111" stroke-width="0.8"/>
<line x1="111.8" y1="260.45" x2="111.8" y2="258.06" stroke="#111" stroke-width="0.8"/>
<line x1="110.2" y1="258.06" x2="113.4" y2="258.06" stroke="#111" stroke-width="0.8"/>
<line x1="120.2" y1="255.8" x2="120.2" y2="251.62" stroke="#111" stroke-width="0.8"/>
<line x1="118.6" y1="251.62" x2="121.8" y2="251.62" stroke="#111" stroke-width="0.8"/>
<line x1="128.6" y1="264.98" x2="128.6" y2="260.21" stroke="#111" stroke-width="0.8"/>
<line x1="127" y1="260.21" x2="130.2" y2="260.21" stroke="#111" stroke-width="0.8"/>
<line x1="137" y1="272.26" x2="137" y2="269.87" stroke="#111" stroke-width="0.8"/>
<line x1="135.4" y1="269.87" x2="138.6" y2="269.87" stroke="#111" stroke-width="0.8"/>
<line x1="145.4" y1="272.26" x2="145.4" y2="269.87" stroke="#111" stroke-width="0.8"/>
<line x1="143.8" y1="269.87" x2="147" y2="269.87" stroke="#111" stroke-width="0.8"/>
<line x1="153.8" y1="272.26" x2="153.8" y2="269.87" stroke="#111" stroke-width="0.8"/>
<line x1="152.2" y1="269.87" x2="155.4" y2="269.87" stroke="#111" stroke-width="0.8"/>
<line x1="162.2" y1="277.27" x2="162.2" y2="273.69" stroke="#111" stroke-width="0.8"/>
<line x1="160.6" y1="273.69" x2="163.8" y2="273.69" stroke="#111" stroke-width="0.8"/>
<circle cx="36.2" cy="289.2" r="1.45" fill="#5aa83a"/>
<circle cx="44.6" cy="277.27" r="1.45" fill="#5aa83a"/>
<circle cx="53" cy="270.11" r="1.45" fill="#5aa83a"/>
<circle cx="61.4" cy="268.32" r="1.45" fill="#5aa83a"/>
<circle cx="69.8" cy="272.5" r="1.45" fill="#5aa83a"/>
<circle cx="78.2" cy="272.5" r="1.45" fill="#5aa83a"/>
<circle cx="86.6" cy="270.11" r="1.45" fill="#5aa83a"/>
<circle cx="95" cy="251.02" r="1.45" fill="#5aa83a"/>
<circle cx="103.4" cy="257.94" r="1.45" fill="#5aa83a"/>
<circle cx="111.8" cy="260.45" r="1.45" fill="#5aa83a"/>
<circle cx="120.2" cy="255.8" r="1.45" fill="#5aa83a"/>
<circle cx="128.6" cy="264.98" r="1.45" fill="#5aa83a"/>
<circle cx="137" cy="272.26" r="1.45" fill="#5aa83a"/>
<circle cx="145.4" cy="272.26" r="1.45" fill="#5aa83a"/>
<circle cx="153.8" cy="272.26" r="1.45" fill="#5aa83a"/>
<circle cx="162.2" cy="277.27" r="1.45" fill="#5aa83a"/>
<path d="M168.2,254.9 H172.7 V279.2 H168.2" stroke="#222" stroke-width="1" fill="none"/>
<text x="170.4" y="254.48" font-size="6" style="stroke-width:0px" text-anchor="middle" fill="#333">**</text>
<text x="10" y="402.7" font-size="11" font-weight="bold" fill="#000">I</text>
<line x1="36.2" y1="422.65" x2="36.2" y2="519" stroke="#111" stroke-width="1.3"/>
<line x1="35.6" y1="519" x2="165" y2="519" stroke="#111" stroke-width="1.4"/>
<line x1="32.9" y1="519" x2="36.2" y2="519" stroke="#222" stroke-width="1"/>
<text x="30.2" y="521.3" font-size="6.5" style="stroke-width:0.02px" text-anchor="end" fill="#222">0</text>
<line x1="32.9" y1="495.5" x2="36.2" y2="495.5" stroke="#222" stroke-width="1"/>
<text x="30.2" y="497.8" font-size="6.5" style="stroke-width:0.02px" text-anchor="end" fill="#222">2</text>
<line x1="32.9" y1="472" x2="36.2" y2="472" stroke="#222" stroke-width="1"/>
<text x="30.2" y="474.3" font-size="6.5" style="stroke-width:0.02px" text-anchor="end" fill="#222">4</text>
<line x1="32.9" y1="448.5" x2="36.2" y2="448.5" stroke="#222" stroke-width="1"/>
<text x="30.2" y="450.8" font-size="6.5" style="stroke-width:0.02px" text-anchor="end" fill="#222">6</text>
<line x1="32.9" y1="425" x2="36.2" y2="425" stroke="#222" stroke-width="1"/>
<text x="30.2" y="427.3" font-size="6.5" style="stroke-width:0.02px" text-anchor="end" fill="#222">8</text>
<line x1="36.2" y1="519" x2="36.2" y2="521.2" stroke="#222" stroke-width="0.9"/>
<line x1="44.6" y1="519" x2="44.6" y2="521.2" stroke="#222" stroke-width="0.9"/>
<line x1="53" y1="519" x2="53" y2="521.2" stroke="#222" stroke-width="0.9"/>
<line x1="61.4" y1="519" x2="61.4" y2="521.2" stroke="#222" stroke-width="0.9"/>
<line x1="69.8" y1="519" x2="69.8" y2="521.2" stroke="#222" stroke-width="0.9"/>
<line x1="78.2" y1="519" x2="78.2" y2="521.2" stroke="#222" stroke-width="0.9"/>
<line x1="86.6" y1="519" x2="86.6" y2="521.2" stroke="#222" stroke-width="0.9"/>
<line x1="95" y1="519" x2="95" y2="521.2" stroke="#222" stroke-width="0.9"/>
<line x1="103.4" y1="519" x2="103.4" y2="521.2" stroke="#222" stroke-width="0.9"/>
<line x1="111.8" y1="519" x2="111.8" y2="521.2" stroke="#222" stroke-width="0.9"/>
<line x1="120.2" y1="519" x2="120.2" y2="521.2" stroke="#222" stroke-width="0.9"/>
<line x1="128.6" y1="519" x2="128.6" y2="521.2" stroke="#222" stroke-width="0.9"/>
<line x1="137" y1="519" x2="137" y2="521.2" stroke="#222" stroke-width="0.9"/>
<line x1="145.4" y1="519" x2="145.4" y2="521.2" stroke="#222" stroke-width="0.9"/>
<line x1="153.8" y1="519" x2="153.8" y2="521.2" stroke="#222" stroke-width="0.9"/>
<line x1="162.2" y1="519" x2="162.2" y2="521.2" stroke="#222" stroke-width="0.9"/>
<text x="36.2" y="530.6" font-size="6.3" style="stroke-width:0.05px" text-anchor="middle">0</text>
<text x="61.4" y="530.6" font-size="6.3" style="stroke-width:0.05px" text-anchor="middle">3</text>
<text x="78.2" y="530.6" font-size="6.3" style="stroke-width:0.05px" text-anchor="middle">5</text>
<text x="95" y="530.6" font-size="6.3" style="stroke-width:0.05px" text-anchor="middle">7</text>
<text x="111.8" y="530.6" font-size="6.3" style="stroke-width:0.05px" text-anchor="middle">9</text>
<text x="128.6" y="530.6" font-size="6.3" style="stroke-width:0.05px" text-anchor="middle">11</text>
<text x="145.4" y="530.6" font-size="6.3" style="stroke-width:0.05px" text-anchor="middle">13</text>
<text x="162.2" y="530.6" font-size="6.3" style="stroke-width:0.05px" text-anchor="middle">15</text>
<text x="86.3" y="542.3" font-size="8.8" style="stroke-width:0.3px" textLength="28.6" lengthAdjust="spacingAndGlyphs">Time (day)</text>
<text x="21.2" y="470.82" font-size="8.3" text-anchor="middle" textLength="8.8" lengthAdjust="spacingAndGlyphs" transform="rotate(-90 21.2 470.82)">DAI</text>
<line x1="43.8" y1="426.5" x2="52.8" y2="426.5" stroke="#5aa83a" stroke-width="1"/>
<circle cx="48.3" cy="426.5" r="1.67" fill="#5aa83a"/>
<text x="56.1" y="428.5" font-size="5.6" style="stroke-width:0.05px" textLength="21.9" lengthAdjust="spacingAndGlyphs" fill="#222">Live MSC</text>
<line x1="43.8" y1="435.5" x2="52.8" y2="435.5" stroke="#5a2a80" stroke-width="1"/>
<circle cx="48.3" cy="435.5" r="1.84" fill="#ece6f2" stroke="#5a2a80" stroke-width="1.1"/>
<text x="56.1" y="437.5" font-size="5.6" style="stroke-width:0.05px" textLength="18.5" lengthAdjust="spacingAndGlyphs" fill="#222">HI MSC</text>
<line x1="43.8" y1="444.5" x2="52.8" y2="444.5" stroke="#b0102e" stroke-width="1"/>
<rect x="46.29" y="442.49" width="4.02" height="4.02" rx="0.5" fill="#b0102e"/>
<text x="56.1" y="446.5" font-size="5.6" style="stroke-width:0.05px" textLength="10.8" lengthAdjust="spacingAndGlyphs" fill="#222">PBS</text>
<polyline points="36.2,519 44.6,512.42 53,507.25 61.4,490.92 69.8,483.63 78.2,472.12 86.6,460.37 95,453.55 103.4,460.37 111.8,455.55 120.2,453.44 128.6,457.78 137,469.3 145.4,479.29 153.8,486.22 162.2,486.22" fill="none" stroke="#b0102e" stroke-width="1" stroke-linejoin="round"/>
<line x1="61.4" y1="490.92" x2="61.4" y2="487.39" stroke="#111" stroke-width="0.8"/>
<line x1="59.8" y1="487.39" x2="63" y2="487.39" stroke="#111" stroke-width="0.8"/>
<line x1="86.6" y1="460.37" x2="86.6" y2="453.91" stroke="#111" stroke-width="0.8"/>
<line x1="85" y1="453.91" x2="88.2" y2="453.91" stroke="#111" stroke-width="0.8"/>
<line x1="95" y1="453.55" x2="95" y2="451.2" stroke="#111" stroke-width="0.8"/>
<line x1="93.4" y1="451.2" x2="96.6" y2="451.2" stroke="#111" stroke-width="0.8"/>
<line x1="103.4" y1="460.37" x2="103.4" y2="453.91" stroke="#111" stroke-width="0.8"/>
<line x1="101.8" y1="453.91" x2="105" y2="453.91" stroke="#111" stroke-width="0.8"/>
<line x1="128.6" y1="457.78" x2="128.6" y2="453.67" stroke="#111" stroke-width="0.8"/>
<line x1="127" y1="453.67" x2="130.2" y2="453.67" stroke="#111" stroke-width="0.8"/>
<line x1="137" y1="469.3" x2="137" y2="459.9" stroke="#111" stroke-width="0.8"/>
<line x1="135.4" y1="459.9" x2="138.6" y2="459.9" stroke="#111" stroke-width="0.8"/>
<line x1="145.4" y1="479.29" x2="145.4" y2="476.94" stroke="#111" stroke-width="0.8"/>
<line x1="143.8" y1="476.94" x2="147" y2="476.94" stroke="#111" stroke-width="0.8"/>
<line x1="153.8" y1="486.22" x2="153.8" y2="482.69" stroke="#111" stroke-width="0.8"/>
<line x1="152.2" y1="482.69" x2="155.4" y2="482.69" stroke="#111" stroke-width="0.8"/>
<rect x="34.45" y="517.25" width="3.5" height="3.5" rx="0.5" fill="#b0102e"/>
<rect x="42.85" y="510.67" width="3.5" height="3.5" rx="0.5" fill="#b0102e"/>
<rect x="51.25" y="505.5" width="3.5" height="3.5" rx="0.5" fill="#b0102e"/>
<rect x="59.65" y="489.17" width="3.5" height="3.5" rx="0.5" fill="#b0102e"/>
<rect x="68.05" y="481.88" width="3.5" height="3.5" rx="0.5" fill="#b0102e"/>
<rect x="76.45" y="470.37" width="3.5" height="3.5" rx="0.5" fill="#b0102e"/>
<rect x="84.85" y="458.62" width="3.5" height="3.5" rx="0.5" fill="#b0102e"/>
<rect x="93.25" y="451.8" width="3.5" height="3.5" rx="0.5" fill="#b0102e"/>
<rect x="101.65" y="458.62" width="3.5" height="3.5" rx="0.5" fill="#b0102e"/>
<rect x="110.05" y="453.8" width="3.5" height="3.5" rx="0.5" fill="#b0102e"/>
<rect x="118.45" y="451.69" width="3.5" height="3.5" rx="0.5" fill="#b0102e"/>
<rect x="126.85" y="456.03" width="3.5" height="3.5" rx="0.5" fill="#b0102e"/>
<rect x="135.25" y="467.55" width="3.5" height="3.5" rx="0.5" fill="#b0102e"/>
<rect x="143.65" y="477.54" width="3.5" height="3.5" rx="0.5" fill="#b0102e"/>
<rect x="152.05" y="484.47" width="3.5" height="3.5" rx="0.5" fill="#b0102e"/>
<rect x="160.45" y="484.47" width="3.5" height="3.5" rx="0.5" fill="#b0102e"/>
<polyline points="36.2,519 44.6,510.89 53,501.61 61.4,481.28 69.8,479.29 78.2,467.77 86.6,468.12 95,453.55 103.4,451.2 111.8,451.2 120.2,451.2 128.6,460.13 137,474.7 145.4,477.52 153.8,484.69 162.2,486.33" fill="none" stroke="#5a2a80" stroke-width="1" stroke-linejoin="round"/>
<line x1="44.6" y1="510.89" x2="44.6" y2="508.54" stroke="#111" stroke-width="0.8"/>
<line x1="43" y1="508.54" x2="46.2" y2="508.54" stroke="#111" stroke-width="0.8"/>
<line x1="53" y1="501.61" x2="53" y2="499.26" stroke="#111" stroke-width="0.8"/>
<line x1="51.4" y1="499.26" x2="54.6" y2="499.26" stroke="#111" stroke-width="0.8"/>
<line x1="61.4" y1="481.28" x2="61.4" y2="478.35" stroke="#111" stroke-width="0.8"/>
<line x1="59.8" y1="478.35" x2="63" y2="478.35" stroke="#111" stroke-width="0.8"/>
<line x1="69.8" y1="479.29" x2="69.8" y2="476.94" stroke="#111" stroke-width="0.8"/>
<line x1="68.2" y1="476.94" x2="71.4" y2="476.94" stroke="#111" stroke-width="0.8"/>
<line x1="78.2" y1="467.77" x2="78.2" y2="465.42" stroke="#111" stroke-width="0.8"/>
<line x1="76.6" y1="465.42" x2="79.8" y2="465.42" stroke="#111" stroke-width="0.8"/>
<line x1="86.6" y1="468.12" x2="86.6" y2="465.77" stroke="#111" stroke-width="0.8"/>
<line x1="85" y1="465.77" x2="88.2" y2="465.77" stroke="#111" stroke-width="0.8"/>
<line x1="95" y1="453.55" x2="95" y2="451.2" stroke="#111" stroke-width="0.8"/>
<line x1="93.4" y1="451.2" x2="96.6" y2="451.2" stroke="#111" stroke-width="0.8"/>
<line x1="103.4" y1="451.2" x2="103.4" y2="448.85" stroke="#111" stroke-width="0.8"/>
<line x1="101.8" y1="448.85" x2="105" y2="448.85" stroke="#111" stroke-width="0.8"/>
<line x1="111.8" y1="451.2" x2="111.8" y2="448.85" stroke="#111" stroke-width="0.8"/>
<line x1="110.2" y1="448.85" x2="113.4" y2="448.85" stroke="#111" stroke-width="0.8"/>
<line x1="120.2" y1="451.2" x2="120.2" y2="448.85" stroke="#111" stroke-width="0.8"/>
<line x1="118.6" y1="448.85" x2="121.8" y2="448.85" stroke="#111" stroke-width="0.8"/>
<line x1="128.6" y1="460.13" x2="128.6" y2="456.61" stroke="#111" stroke-width="0.8"/>
<line x1="127" y1="456.61" x2="130.2" y2="456.61" stroke="#111" stroke-width="0.8"/>
<line x1="137" y1="474.7" x2="137" y2="472.35" stroke="#111" stroke-width="0.8"/>
<line x1="135.4" y1="472.35" x2="138.6" y2="472.35" stroke="#111" stroke-width="0.8"/>
<line x1="145.4" y1="477.52" x2="145.4" y2="475.17" stroke="#111" stroke-width="0.8"/>
<line x1="143.8" y1="475.17" x2="147" y2="475.17" stroke="#111" stroke-width="0.8"/>
<line x1="153.8" y1="484.69" x2="153.8" y2="481.17" stroke="#111" stroke-width="0.8"/>
<line x1="152.2" y1="481.17" x2="155.4" y2="481.17" stroke="#111" stroke-width="0.8"/>
<line x1="162.2" y1="486.33" x2="162.2" y2="482.81" stroke="#111" stroke-width="0.8"/>
<line x1="160.6" y1="482.81" x2="163.8" y2="482.81" stroke="#111" stroke-width="0.8"/>
<circle cx="36.2" cy="519" r="1.6" fill="#ece6f2" stroke="#5a2a80" stroke-width="1.1"/>
<circle cx="44.6" cy="510.89" r="1.6" fill="#ece6f2" stroke="#5a2a80" stroke-width="1.1"/>
<circle cx="53" cy="501.61" r="1.6" fill="#ece6f2" stroke="#5a2a80" stroke-width="1.1"/>
<circle cx="61.4" cy="481.28" r="1.6" fill="#ece6f2" stroke="#5a2a80" stroke-width="1.1"/>
<circle cx="69.8" cy="479.29" r="1.6" fill="#ece6f2" stroke="#5a2a80" stroke-width="1.1"/>
<circle cx="78.2" cy="467.77" r="1.6" fill="#ece6f2" stroke="#5a2a80" stroke-width="1.1"/>
<circle cx="86.6" cy="468.12" r="1.6" fill="#ece6f2" stroke="#5a2a80" stroke-width="1.1"/>
<circle cx="95" cy="453.55" r="1.6" fill="#ece6f2" stroke="#5a2a80" stroke-width="1.1"/>
<circle cx="103.4" cy="451.2" r="1.6" fill="#ece6f2" stroke="#5a2a80" stroke-width="1.1"/>
<circle cx="111.8" cy="451.2" r="1.6" fill="#ece6f2" stroke="#5a2a80" stroke-width="1.1"/>
<circle cx="120.2" cy="451.2" r="1.6" fill="#ece6f2" stroke="#5a2a80" stroke-width="1.1"/>
<circle cx="128.6" cy="460.13" r="1.6" fill="#ece6f2" stroke="#5a2a80" stroke-width="1.1"/>
<circle cx="137" cy="474.7" r="1.6" fill="#ece6f2" stroke="#5a2a80" stroke-width="1.1"/>
<circle cx="145.4" cy="477.52" r="1.6" fill="#ece6f2" stroke="#5a2a80" stroke-width="1.1"/>
<circle cx="153.8" cy="484.69" r="1.6" fill="#ece6f2" stroke="#5a2a80" stroke-width="1.1"/>
<circle cx="162.2" cy="486.33" r="1.6" fill="#ece6f2" stroke="#5a2a80" stroke-width="1.1"/>
<polyline points="36.2,519 44.6,507.25 53,500.44 61.4,502.67 69.8,502.67 78.2,500.44 86.6,500.44 95,483.87 103.4,488.57 111.8,490.92 120.2,488.57 128.6,495.15 137,500.44 145.4,498.08 153.8,507.25 162.2,509.6" fill="none" stroke="#5aa83a" stroke-width="1" stroke-linejoin="round"/>
<line x1="44.6" y1="507.25" x2="44.6" y2="503.73" stroke="#111" stroke-width="0.8"/>
<line x1="43" y1="503.73" x2="46.2" y2="503.73" stroke="#111" stroke-width="0.8"/>
<line x1="61.4" y1="502.67" x2="61.4" y2="500.32" stroke="#111" stroke-width="0.8"/>
<line x1="59.8" y1="500.32" x2="63" y2="500.32" stroke="#111" stroke-width="0.8"/>
<line x1="69.8" y1="502.67" x2="69.8" y2="500.32" stroke="#111" stroke-width="0.8"/>
<line x1="68.2" y1="500.32" x2="71.4" y2="500.32" stroke="#111" stroke-width="0.8"/>
<line x1="78.2" y1="500.44" x2="78.2" y2="498.08" stroke="#111" stroke-width="0.8"/>
<line x1="76.6" y1="498.08" x2="79.8" y2="498.08" stroke="#111" stroke-width="0.8"/>
<line x1="86.6" y1="500.44" x2="86.6" y2="498.08" stroke="#111" stroke-width="0.8"/>
<line x1="85" y1="498.08" x2="88.2" y2="498.08" stroke="#111" stroke-width="0.8"/>
<line x1="95" y1="483.87" x2="95" y2="482.11" stroke="#111" stroke-width="0.8"/>
<line x1="93.4" y1="482.11" x2="96.6" y2="482.11" stroke="#111" stroke-width="0.8"/>
<line x1="103.4" y1="488.57" x2="103.4" y2="486.22" stroke="#111" stroke-width="0.8"/>
<line x1="101.8" y1="486.22" x2="105" y2="486.22" stroke="#111" stroke-width="0.8"/>
<line x1="111.8" y1="490.92" x2="111.8" y2="488.57" stroke="#111" stroke-width="0.8"/>
<line x1="110.2" y1="488.57" x2="113.4" y2="488.57" stroke="#111" stroke-width="0.8"/>
<line x1="120.2" y1="488.57" x2="120.2" y2="486.22" stroke="#111" stroke-width="0.8"/>
<line x1="118.6" y1="486.22" x2="121.8" y2="486.22" stroke="#111" stroke-width="0.8"/>
<line x1="128.6" y1="495.15" x2="128.6" y2="489.86" stroke="#111" stroke-width="0.8"/>
<line x1="127" y1="489.86" x2="130.2" y2="489.86" stroke="#111" stroke-width="0.8"/>
<line x1="137" y1="500.44" x2="137" y2="498.08" stroke="#111" stroke-width="0.8"/>
<line x1="135.4" y1="498.08" x2="138.6" y2="498.08" stroke="#111" stroke-width="0.8"/>
<line x1="145.4" y1="498.08" x2="145.4" y2="495.73" stroke="#111" stroke-width="0.8"/>
<line x1="143.8" y1="495.73" x2="147" y2="495.73" stroke="#111" stroke-width="0.8"/>
<line x1="162.2" y1="509.6" x2="162.2" y2="507.25" stroke="#111" stroke-width="0.8"/>
<line x1="160.6" y1="507.25" x2="163.8" y2="507.25" stroke="#111" stroke-width="0.8"/>
<circle cx="36.2" cy="519" r="1.45" fill="#5aa83a"/>
<circle cx="44.6" cy="507.25" r="1.45" fill="#5aa83a"/>
<circle cx="53" cy="500.44" r="1.45" fill="#5aa83a"/>
<circle cx="61.4" cy="502.67" r="1.45" fill="#5aa83a"/>
<circle cx="69.8" cy="502.67" r="1.45" fill="#5aa83a"/>
<circle cx="78.2" cy="500.44" r="1.45" fill="#5aa83a"/>
<circle cx="86.6" cy="500.44" r="1.45" fill="#5aa83a"/>
<circle cx="95" cy="483.87" r="1.45" fill="#5aa83a"/>
<circle cx="103.4" cy="488.57" r="1.45" fill="#5aa83a"/>
<circle cx="111.8" cy="490.92" r="1.45" fill="#5aa83a"/>
<circle cx="120.2" cy="488.57" r="1.45" fill="#5aa83a"/>
<circle cx="128.6" cy="495.15" r="1.45" fill="#5aa83a"/>
<circle cx="137" cy="500.44" r="1.45" fill="#5aa83a"/>
<circle cx="145.4" cy="498.08" r="1.45" fill="#5aa83a"/>
<circle cx="153.8" cy="507.25" r="1.45" fill="#5aa83a"/>
<circle cx="162.2" cy="509.6" r="1.45" fill="#5aa83a"/>
<path d="M169.3,483.5 H173.8 V513.1 H169.3" stroke="#222" stroke-width="1" fill="none"/>
<text x="171.2" y="481.98" font-size="6" style="stroke-width:0px" text-anchor="middle" fill="#333">****</text>
<text x="342.5" y="174.2" font-size="11" font-weight="bold" fill="#000">F</text>
<line x1="370.8" y1="199.11" x2="370.8" y2="289" stroke="#111" stroke-width="1.3"/>
<line x1="370.2" y1="289" x2="490.2" y2="289" stroke="#111" stroke-width="1.4"/>
<line x1="368.5" y1="289" x2="370.8" y2="289" stroke="#222" stroke-width="0.9"/>
<line x1="368.5" y1="271.2" x2="370.8" y2="271.2" stroke="#222" stroke-width="0.9"/>
<line x1="368.5" y1="253.4" x2="370.8" y2="253.4" stroke="#222" stroke-width="0.9"/>
<line x1="368.5" y1="235.6" x2="370.8" y2="235.6" stroke="#222" stroke-width="0.9"/>
<line x1="368.5" y1="217.8" x2="370.8" y2="217.8" stroke="#222" stroke-width="0.9"/>
<line x1="368.5" y1="200" x2="370.8" y2="200" stroke="#222" stroke-width="0.9"/>
<text x="365.2" y="291.1" font-size="6" style="stroke-width:0px" text-anchor="end" fill="#333">0</text>
<text x="365.2" y="255.5" font-size="6" style="stroke-width:0px" text-anchor="end" fill="#333">4</text>
<text x="365.2" y="219.9" font-size="6" style="stroke-width:0px" text-anchor="end" fill="#333">8</text>
<text x="365.2" y="202.1" font-size="6" style="stroke-width:0px" text-anchor="end" fill="#333">10</text>
<text x="352.5" y="243.16" font-size="7.9" style="stroke-width:0.12px" text-anchor="middle" textLength="39.4" lengthAdjust="spacingAndGlyphs" transform="rotate(-90 352.5 243.16)">Histology score</text>
<line x1="394.4" y1="289" x2="394.4" y2="291.2" stroke="#222" stroke-width="0.9"/>
<line x1="432" y1="289" x2="432" y2="291.2" stroke="#222" stroke-width="0.9"/>
<line x1="469.6" y1="289" x2="469.6" y2="291.2" stroke="#222" stroke-width="0.9"/>
<text x="394.4" y="301.6" font-size="6.3" style="stroke-width:0px" text-anchor="middle" fill="#2a2a2a">Live</text>
<text x="394.4" y="309.2" font-size="6.3" style="stroke-width:0px" text-anchor="middle" fill="#2a2a2a">MSC</text>
<text x="432" y="301.6" font-size="6.3" style="stroke-width:0px" text-anchor="middle" fill="#2a2a2a">Thawed</text>
<text x="432" y="309.2" font-size="6.3" style="stroke-width:0px" text-anchor="middle" fill="#2a2a2a">MSC</text>
<text x="469.6" y="301.6" font-size="6.3" style="stroke-width:0px" text-anchor="middle" fill="#2a2a2a">PBS</text>
<line x1="382.7" y1="246.7" x2="406.3" y2="246.7" stroke="#111" stroke-width="1.2"/>
<line x1="394.5" y1="242.3" x2="394.5" y2="251.2" stroke="#111" stroke-width="0.9"/>
<line x1="388" y1="242.3" x2="401" y2="242.3" stroke="#111" stroke-width="1"/>
<line x1="388" y1="251.2" x2="401" y2="251.2" stroke="#111" stroke-width="1"/>
<circle cx="391" cy="236.2" r="1.81" fill="#5aa83a"/>
<circle cx="399" cy="236.2" r="1.81" fill="#5aa83a"/>
<circle cx="386.7" cy="253.5" r="1.81" fill="#5aa83a"/>
<circle cx="394.8" cy="253.5" r="1.81" fill="#5aa83a"/>
<circle cx="402.9" cy="253.5" r="1.81" fill="#5aa83a"/>
<path d="M398.3,226.5 V221.3 H415" stroke="#222" stroke-width="1" fill="none"/>
<text x="407" y="221.88" font-size="6" style="stroke-width:0px" text-anchor="middle" fill="#333">***</text>
<line x1="419" y1="222.1" x2="442.7" y2="222.1" stroke="#111" stroke-width="1.2"/>
<line x1="430.6" y1="219.8" x2="430.6" y2="224.2" stroke="#111" stroke-width="0.9"/>
<line x1="424.4" y1="219.8" x2="436.5" y2="219.8" stroke="#777" stroke-width="1"/>
<line x1="424.4" y1="224.2" x2="436.5" y2="224.2" stroke="#111" stroke-width="1"/>
<path d="M422.5,217.11 L424.5,220.7 L420.5,220.7 Z" fill="#2a4a86"/>
<path d="M430.6,217.11 L432.6,220.7 L428.61,220.7 Z" fill="#2a4a86"/>
<path d="M438.8,217.11 L440.8,220.7 L436.81,220.7 Z" fill="#2a4a86"/>
<path d="M426.7,226.21 L428.69,229.8 L424.7,229.8 Z" fill="#2a4a86"/>
<path d="M434.6,226.21 L436.6,229.8 L432.61,229.8 Z" fill="#2a4a86"/>
<line x1="454.8" y1="222.1" x2="478.7" y2="222.1" stroke="#111" stroke-width="1.2"/>
<line x1="466.7" y1="218.3" x2="466.7" y2="225.6" stroke="#111" stroke-width="0.9"/>
<line x1="460.4" y1="218.3" x2="472.9" y2="218.3" stroke="#333" stroke-width="1"/>
<line x1="460.4" y1="225.6" x2="472.9" y2="225.6" stroke="#111" stroke-width="1"/>
<rect x="454.93" y="216.93" width="3.15" height="3.15" rx="0.5" fill="#b0102e"/>
<rect x="461.73" y="216.93" width="3.15" height="3.15" rx="0.5" fill="#b0102e"/>
<rect x="468.62" y="216.93" width="3.15" height="3.15" rx="0.5" fill="#b0102e"/>
<rect x="475.12" y="216.93" width="3.15" height="3.15" rx="0.5" fill="#b0102e"/>
<rect x="465.12" y="234.62" width="3.15" height="3.15" rx="0.5" fill="#b0102e"/>
<text x="342" y="496.5" font-size="11" font-weight="bold" fill="#000">K</text>
<line x1="371.2" y1="498.37" x2="371.2" y2="592.3" stroke="#111" stroke-width="1.3"/>
<line x1="370.6" y1="592.3" x2="509.2" y2="592.3" stroke="#111" stroke-width="1.4"/>
<line x1="368.9" y1="592.3" x2="371.2" y2="592.3" stroke="#222" stroke-width="0.9"/>
<line x1="368.9" y1="573.7" x2="371.2" y2="573.7" stroke="#222" stroke-width="0.9"/>
<line x1="368.9" y1="555.1" x2="371.2" y2="555.1" stroke="#222" stroke-width="0.9"/>
<line x1="368.9" y1="536.5" x2="371.2" y2="536.5" stroke="#222" stroke-width="0.9"/>
<line x1="368.9" y1="517.9" x2="371.2" y2="517.9" stroke="#222" stroke-width="0.9"/>
<line x1="368.9" y1="499.3" x2="371.2" y2="499.3" stroke="#222" stroke-width="0.9"/>
<text x="365.6" y="594.4" font-size="6" style="stroke-width:0px" text-anchor="end" fill="#333">0</text>
<text x="365.6" y="557.2" font-size="6" style="stroke-width:0px" text-anchor="end" fill="#333">4</text>
<text x="365.6" y="520" font-size="6" style="stroke-width:0px" text-anchor="end" fill="#333">8</text>
<text x="365.6" y="501.4" font-size="6" style="stroke-width:0px" text-anchor="end" fill="#333">10</text>
<text x="352.9" y="544.4" font-size="7.9" style="stroke-width:0.12px" text-anchor="middle" textLength="39.4" lengthAdjust="spacingAndGlyphs" transform="rotate(-90 352.9 544.4)">Histology score</text>
<line x1="396.7" y1="592.3" x2="396.7" y2="594.5" stroke="#222" stroke-width="0.9"/>
<line x1="440.6" y1="592.3" x2="440.6" y2="594.5" stroke="#222" stroke-width="0.9"/>
<line x1="484" y1="592.3" x2="484" y2="594.5" stroke="#222" stroke-width="0.9"/>
<text x="396.9" y="604" font-size="6.3" style="stroke-width:0px" text-anchor="middle" textLength="26.8" lengthAdjust="spacingAndGlyphs" fill="#2a2a2a">Live MSC</text>
<text x="440.4" y="604" font-size="6.3" style="stroke-width:0px" text-anchor="middle" textLength="20.5" lengthAdjust="spacingAndGlyphs" fill="#2a2a2a">HI MSC</text>
<text x="484.2" y="604" font-size="6.3" style="stroke-width:0px" text-anchor="middle" fill="#2a2a2a">PBS</text>
<line x1="385.9" y1="555.3" x2="415" y2="555.3" stroke="#111" stroke-width="1.2"/>
<line x1="400.2" y1="548.9" x2="400.2" y2="561.7" stroke="#111" stroke-width="0.9"/>
<line x1="392.8" y1="548.9" x2="407.8" y2="548.9" stroke="#666" stroke-width="1.2"/>
<line x1="392.8" y1="561.7" x2="407.8" y2="561.7" stroke="#666" stroke-width="1.2"/>
<circle cx="394.2" cy="555.3" r="1.81" fill="#5aa83a"/>
<circle cx="400.2" cy="555.3" r="1.81" fill="#5aa83a"/>
<circle cx="406.6" cy="555.3" r="1.81" fill="#5aa83a"/>
<circle cx="400.2" cy="545.8" r="1.81" fill="#5aa83a"/>
<circle cx="400.2" cy="564.5" r="1.81" fill="#5aa83a"/>
<path d="M400,531.6 V524.1 H422.7" stroke="#222" stroke-width="1" fill="none"/>
<text x="411" y="524.08" font-size="6" style="stroke-width:0px" text-anchor="middle" fill="#333">**</text>
<line x1="430" y1="524.2" x2="459.3" y2="524.2" stroke="#111" stroke-width="1.2"/>
<line x1="444.6" y1="518.2" x2="444.6" y2="527.5" stroke="#111" stroke-width="0.9"/>
<line x1="437.3" y1="518.2" x2="452" y2="518.2" stroke="#333" stroke-width="1"/>
<line x1="437.3" y1="527.3" x2="452" y2="527.3" stroke="#333" stroke-width="1"/>
<circle cx="441.6" cy="518.2" r="1.52" fill="#ece6f2" stroke="#5a2a80" stroke-width="1.1"/>
<circle cx="447.7" cy="518.2" r="1.52" fill="#ece6f2" stroke="#5a2a80" stroke-width="1.1"/>
<circle cx="439" cy="527.7" r="1.52" fill="#ece6f2" stroke="#5a2a80" stroke-width="1.1"/>
<circle cx="444.7" cy="527.7" r="1.52" fill="#ece6f2" stroke="#5a2a80" stroke-width="1.1"/>
<circle cx="450.8" cy="527.7" r="1.52" fill="#ece6f2" stroke="#5a2a80" stroke-width="1.1"/>
<line x1="474.2" y1="524.2" x2="503.9" y2="524.2" stroke="#111" stroke-width="1.2"/>
<line x1="488.9" y1="515.9" x2="488.9" y2="532.5" stroke="#111" stroke-width="0.9"/>
<line x1="481.4" y1="515.9" x2="496.2" y2="515.9" stroke="#555" stroke-width="1.2"/>
<line x1="481.4" y1="532.5" x2="496.2" y2="532.5" stroke="#555" stroke-width="1.2"/>
<rect x="481.62" y="516.92" width="3.15" height="3.15" rx="0.5" fill="#b0102e"/>
<rect x="487.32" y="516.92" width="3.15" height="3.15" rx="0.5" fill="#b0102e"/>
<rect x="493.32" y="516.92" width="3.15" height="3.15" rx="0.5" fill="#b0102e"/>
<rect x="487.32" y="526.12" width="3.15" height="3.15" rx="0.5" fill="#b0102e"/>
<rect x="487.32" y="535.62" width="3.15" height="3.15" rx="0.5" fill="#b0102e"/>
<clipPath id="c2"><rect x="0" y="0" width="58" height="49"/></clipPath>
<filter id="bl2" x="-20%" y="-20%" width="140%" height="140%"><feGaussianBlur stdDeviation="0.6"/></filter>
<g transform="translate(199,184)" clip-path="url(#c2)">
<rect x="0" y="0" width="58" height="49" fill="#b8d8b4"/>
<g filter="url(#bl2)">
<path d="M-2,27 L10,31 L20,34 L30,37 L40,40 L48,38 L53,40 L46,46 L36,47.5 L24,44 L12,40 L-2,37 Z" fill="#aeaaae"/>
<path d="M-2,31 C10,35 22,38 34,41" fill="none" stroke="#a49aa6" stroke-width="1.0" stroke-linecap="round" stroke-linejoin="round"/>
<path d="M20,-1 C34,1 46,6 52,13 C56,20 57,30 55,37 C52,44 44,47 34,46 C22,45 10,41 -2,36" fill="none" stroke="#ad96a4" stroke-width="1.8" stroke-linecap="round" stroke-linejoin="round"/>
<path d="M-2,39 C12,44 26,47 40,48" fill="none" stroke="#b4a4ac" stroke-width="1.2" stroke-linecap="round" stroke-linejoin="round"/>
<clipPath id="mu1"><path d="M3,-1 L18,-1 L25,1 L31,4 L38,8 L44,12 L48,17 L50.5,24 L50.5,31 L48,37 L42,40 L34,39 L26,36 L17,34 L8.7,31.5 L-1,29.5 L-1,14.4 L8.7,17.9 L17,21.3 L26,23 L33,26 L40,31.5 L38.6,28 L37.8,23 L33.8,20.2 L30,16.7 L23,12.7 L14.4,7.5 L5.8,2.3 Z"/></clipPath>
<path d="M3,-1 L18,-1 L25,1 L31,4 L38,8 L44,12 L48,17 L50.5,24 L50.5,31 L48,37 L42,40 L34,39 L26,36 L17,34 L8.7,31.5 L-1,29.5 L-1,14.4 L8.7,17.9 L17,21.3 L26,23 L33,26 L40,31.5 L38.6,28 L37.8,23 L33.8,20.2 L30,16.7 L23,12.7 L14.4,7.5 L5.8,2.3 Z" fill="#7c8296"/>
<g clip-path="url(#mu1)">
<path d="M22.00,17.00 L67.00,17.00 M22.00,17.00 L66.75,21.70 M22.00,17.00 L66.02,26.36 M22.00,17.00 L64.80,30.91 M22.00,17.00 L63.11,35.30 M22.00,17.00 L60.97,39.50 M22.00,17.00 L58.41,43.45 M22.00,17.00 L55.44,47.11 M22.00,17.00 L52.11,50.44 M22.00,17.00 L48.45,53.41 M22.00,17.00 L44.50,55.97 M22.00,17.00 L40.30,58.11 M22.00,17.00 L35.91,59.80 M22.00,17.00 L31.36,61.02 M22.00,17.00 L26.70,61.75 M22.00,17.00 L22.00,62.00 M22.00,17.00 L17.30,61.75 M22.00,17.00 L12.64,61.02 M22.00,17.00 L8.09,59.80 M22.00,17.00 L3.70,58.11 M22.00,17.00 L-0.50,55.97 M22.00,17.00 L-4.45,53.41 M22.00,17.00 L-8.11,50.44 M22.00,17.00 L-11.44,47.11 M22.00,17.00 L-14.41,43.45 M22.00,17.00 L-16.97,39.50 M22.00,17.00 L-19.11,35.30 M22.00,17.00 L-20.80,30.91 M22.00,17.00 L-22.02,26.36 M22.00,17.00 L-22.75,21.70 M22.00,17.00 L-23.00,17.00 M22.00,17.00 L-22.75,12.30 M22.00,17.00 L-22.02,7.64 M22.00,17.00 L-20.80,3.09 M22.00,17.00 L-19.11,-1.30 M22.00,17.00 L-16.97,-5.50 M22.00,17.00 L-14.41,-9.45 M22.00,17.00 L-11.44,-13.11 M22.00,17.00 L-8.11,-16.44 M22.00,17.00 L-4.45,-19.41 M22.00,17.00 L-0.50,-21.97 M22.00,17.00 L3.70,-24.11 M22.00,17.00 L8.09,-25.80 M22.00,17.00 L12.64,-27.02 M22.00,17.00 L17.30,-27.75 M22.00,17.00 L22.00,-28.00 M22.00,17.00 L26.70,-27.75 M22.00,17.00 L31.36,-27.02 M22.00,17.00 L35.91,-25.80 M22.00,17.00 L40.30,-24.11 M22.00,17.00 L44.50,-21.97 M22.00,17.00 L48.45,-19.41 M22.00,17.00 L52.11,-16.44 M22.00,17.00 L55.44,-13.11 M22.00,17.00 L58.41,-9.45 M22.00,17.00 L60.97,-5.50 M22.00,17.00 L63.11,-1.30 M22.00,17.00 L64.80,3.09 M22.00,17.00 L66.02,7.64 M22.00,17.00 L66.75,12.30" fill="none" stroke="#4e5676" stroke-width="1.3" stroke-linecap="round" stroke-linejoin="round"/>
<path d="M22.00,17.00 L66.94,19.36 M22.00,17.00 L66.45,24.04 M22.00,17.00 L65.47,28.65 M22.00,17.00 L64.01,33.13 M22.00,17.00 L62.10,37.43 M22.00,17.00 L59.74,41.51 M22.00,17.00 L56.97,45.32 M22.00,17.00 L53.82,48.82 M22.00,17.00 L50.32,51.97 M22.00,17.00 L46.51,54.74 M22.00,17.00 L42.43,57.10 M22.00,17.00 L38.13,59.01 M22.00,17.00 L33.65,60.47 M22.00,17.00 L29.04,61.45 M22.00,17.00 L24.36,61.94 M22.00,17.00 L19.64,61.94 M22.00,17.00 L14.96,61.45 M22.00,17.00 L10.35,60.47 M22.00,17.00 L5.87,59.01 M22.00,17.00 L1.57,57.10 M22.00,17.00 L-2.51,54.74 M22.00,17.00 L-6.32,51.97 M22.00,17.00 L-9.82,48.82 M22.00,17.00 L-12.97,45.32 M22.00,17.00 L-15.74,41.51 M22.00,17.00 L-18.10,37.43 M22.00,17.00 L-20.01,33.13 M22.00,17.00 L-21.47,28.65 M22.00,17.00 L-22.45,24.04 M22.00,17.00 L-22.94,19.36 M22.00,17.00 L-22.94,14.64 M22.00,17.00 L-22.45,9.96 M22.00,17.00 L-21.47,5.35 M22.00,17.00 L-20.01,0.87 M22.00,17.00 L-18.10,-3.43 M22.00,17.00 L-15.74,-7.51 M22.00,17.00 L-12.97,-11.32 M22.00,17.00 L-9.82,-14.82 M22.00,17.00 L-6.32,-17.97 M22.00,17.00 L-2.51,-20.74 M22.00,17.00 L1.57,-23.10 M22.00,17.00 L5.87,-25.01 M22.00,17.00 L10.35,-26.47 M22.00,17.00 L14.96,-27.45 M22.00,17.00 L19.64,-27.94 M22.00,17.00 L24.36,-27.94 M22.00,17.00 L29.04,-27.45 M22.00,17.00 L33.65,-26.47 M22.00,17.00 L38.13,-25.01 M22.00,17.00 L42.43,-23.10 M22.00,17.00 L46.51,-20.74 M22.00,17.00 L50.32,-17.97 M22.00,17.00 L53.82,-14.82 M22.00,17.00 L56.97,-11.32 M22.00,17.00 L59.74,-7.51 M22.00,17.00 L62.10,-3.43 M22.00,17.00 L64.01,0.87 M22.00,17.00 L65.47,5.35 M22.00,17.00 L66.45,9.96 M22.00,17.00 L66.94,14.64" fill="none" stroke="#aab6c0" stroke-width="0.9" stroke-linecap="round" stroke-linejoin="round"/>
</g>
</g>
<line x1="51.7" y1="46.5" x2="56.1" y2="46.5" stroke="#587a5a" stroke-width="1.1" opacity="0.8"/>
</g>
<clipPath id="c4"><rect x="0" y="0" width="57.2" height="49.8"/></clipPath>
<filter id="bl4" x="-20%" y="-20%" width="140%" height="140%"><feGaussianBlur stdDeviation="0.6"/></filter>
<g transform="translate(263.4,183.8)" clip-path="url(#c4)">
<rect x="0" y="0" width="57.2" height="49.8" fill="#b8d8b4"/>
<g filter="url(#bl4)">
<path d="M-2,22 L4,30 L16,38 L33,40.5 L50,38.5 L60,30 L60,42 L50,46 L33,48 L16,46 L2,39 L-2,36 Z" fill="#b4c4b4"/>
<path d="M-1,29 C5,35 10,37.5 16.7,38.5 C24,40.5 30,41 33.4,40.7 C40,40.5 46,39.5 50,38.5 C54,37 57,34 59,31" fill="none" stroke="#a8969e" stroke-width="2.2" stroke-linecap="round" stroke-linejoin="round"/>
<path d="M-1,37 C6,42 11,44.5 16.7,45.2 C24,47 30,47.4 33.4,47.4 C40,47 46,46 50,45.2 C54,44 57,42 59,40" fill="none" stroke="#ae9ea6" stroke-width="2.0" stroke-linecap="round" stroke-linejoin="round"/>
<path d="M0,33 C8,40 20,43 33,44 C44,44 52,42 59,36" fill="none" stroke="#c4dcc0" stroke-width="1.2" stroke-linecap="round" stroke-linejoin="round"/>
<clipPath id="th3"><path d="M2,-2 L59,-2 L59,29.6 L50,34.6 L35,37.9 L20,36.3 L5,30.7 L3,22 L3,10 Z"/></clipPath>
<path d="M2,-2 L59,-2 L59,29.6 L50,34.6 L35,37.9 L20,36.3 L5,30.7 L3,22 L3,10 Z" fill="#868c9c"/>
<g clip-path="url(#th3)">
<path d="M16.00,42.00 L-30.00,42.00 M16.02,41.31 L-29.93,39.06 M16.07,40.63 L-29.71,36.12 M16.15,39.95 L-29.35,33.20 M16.27,39.27 L-28.85,30.29 M16.42,38.60 L-28.20,27.42 M16.60,37.94 L-27.42,24.58 M16.82,37.28 L-26.49,21.79 M17.07,36.64 L-25.43,19.04 M17.34,36.01 L-24.24,16.35 M17.65,35.40 L-22.92,13.72 M17.99,34.80 L-21.46,11.15 M18.36,34.22 L-19.89,8.67 M18.76,33.66 L-18.19,6.26 M19.18,33.12 L-16.38,3.94 M19.63,32.60 L-14.46,1.71 M20.10,32.10 L-12.43,-0.43 M20.60,31.63 L-10.29,-2.46 M21.12,31.18 L-8.06,-4.38 M21.66,30.76 L-5.74,-6.19 M22.22,30.36 L-3.33,-7.89 M22.80,29.99 L-0.85,-9.46 M23.40,29.65 L1.72,-10.92 M24.01,29.34 L4.35,-12.24 M24.64,29.07 L7.04,-13.43 M25.28,28.82 L9.79,-14.49 M25.94,28.60 L12.58,-15.42 M26.60,28.42 L15.42,-16.20 M27.27,28.27 L18.29,-16.85 M27.95,28.15 L21.20,-17.35 M28.63,28.07 L24.12,-17.71 M29.31,28.02 L27.06,-17.93 M30.00,28.00 L30.00,-18.00 M30.69,28.02 L32.94,-17.93 M31.37,28.07 L35.88,-17.71 M32.05,28.15 L38.80,-17.35 M32.73,28.27 L41.71,-16.85 M33.40,28.42 L44.58,-16.20 M34.06,28.60 L47.42,-15.42 M34.72,28.82 L50.21,-14.49 M35.36,29.07 L52.96,-13.43 M35.99,29.34 L55.65,-12.24 M36.60,29.65 L58.28,-10.92 M37.20,29.99 L60.85,-9.46 M37.78,30.36 L63.33,-7.89 M38.34,30.76 L65.74,-6.19 M38.88,31.18 L68.06,-4.38 M39.40,31.63 L70.29,-2.46 M39.90,32.10 L72.43,-0.43 M40.37,32.60 L74.46,1.71 M40.82,33.12 L76.38,3.94 M41.24,33.66 L78.19,6.26 M41.64,34.22 L79.89,8.67 M42.01,34.80 L81.46,11.15 M42.35,35.40 L82.92,13.72 M42.66,36.01 L84.24,16.35 M42.93,36.64 L85.43,19.04 M43.18,37.28 L86.49,21.79 M43.40,37.94 L87.42,24.58 M43.58,38.60 L88.20,27.42 M43.73,39.27 L88.85,30.29 M43.85,39.95 L89.35,33.20 M43.93,40.63 L89.71,36.12 M43.98,41.31 L89.93,39.06" fill="none" stroke="#5c6480" stroke-width="1.1" stroke-linecap="round" stroke-linejoin="round"/>
<path d="M16.00,41.66 L-29.98,40.53 M16.04,40.97 L-29.84,37.59 M16.11,40.29 L-29.55,34.66 M16.21,39.61 L-29.12,31.74 M16.34,38.93 L-28.54,28.85 M16.51,38.27 L-27.83,26.00 M16.71,37.61 L-26.97,23.18 M16.94,36.96 L-25.98,20.41 M17.20,36.33 L-24.85,17.69 M17.49,35.71 L-23.59,15.02 M17.82,35.10 L-22.21,12.43 M18.17,34.51 L-20.69,9.90 M18.55,33.94 L-19.06,7.45 M18.96,33.39 L-17.30,5.09 M19.40,32.86 L-15.43,2.81 M19.86,32.35 L-13.45,0.63 M20.35,31.86 L-11.37,-1.45 M20.86,31.40 L-9.19,-3.43 M21.39,30.96 L-6.91,-5.30 M21.94,30.55 L-4.55,-7.06 M22.51,30.17 L-2.10,-8.69 M23.10,29.82 L0.43,-10.21 M23.71,29.49 L3.02,-11.59 M24.33,29.20 L5.69,-12.85 M24.96,28.94 L8.41,-13.98 M25.61,28.71 L11.18,-14.97 M26.27,28.51 L14.00,-15.83 M26.93,28.34 L16.85,-16.54 M27.61,28.21 L19.74,-17.12 M28.29,28.11 L22.66,-17.55 M28.97,28.04 L25.59,-17.84 M29.66,28.00 L28.53,-17.98 M30.34,28.00 L31.47,-17.98 M31.03,28.04 L34.41,-17.84 M31.71,28.11 L37.34,-17.55 M32.39,28.21 L40.26,-17.12 M33.07,28.34 L43.15,-16.54 M33.73,28.51 L46.00,-15.83 M34.39,28.71 L48.82,-14.97 M35.04,28.94 L51.59,-13.98 M35.67,29.20 L54.31,-12.85 M36.29,29.49 L56.98,-11.59 M36.90,29.82 L59.57,-10.21 M37.49,30.17 L62.10,-8.69 M38.06,30.55 L64.55,-7.06 M38.61,30.96 L66.91,-5.30 M39.14,31.40 L69.19,-3.43 M39.65,31.86 L71.37,-1.45 M40.14,32.35 L73.45,0.63 M40.60,32.86 L75.43,2.81 M41.04,33.39 L77.30,5.09 M41.45,33.94 L79.06,7.45 M41.83,34.51 L80.69,9.90 M42.18,35.10 L82.21,12.43 M42.51,35.71 L83.59,15.02 M42.80,36.33 L84.85,17.69 M43.06,36.96 L85.98,20.41 M43.29,37.61 L86.97,23.18 M43.49,38.27 L87.83,26.00 M43.66,38.93 L88.54,28.85 M43.79,39.61 L89.12,31.74 M43.89,40.29 L89.55,34.66 M43.96,40.97 L89.84,37.59 M44.00,41.66 L89.98,40.53" fill="none" stroke="#b0bac0" stroke-width="0.8" stroke-linecap="round" stroke-linejoin="round"/>
</g>
<ellipse cx="12" cy="25" rx="8.5" ry="6" fill="#5a6082" opacity="0.9"/>
<ellipse cx="41" cy="28" rx="12.5" ry="6.5" fill="#5a6082" opacity="0.9"/>
<ellipse cx="26" cy="32" rx="9" ry="3.5" fill="#7a8294"/>
<path d="M6,11 L10,8.7 L15,8.7 L18,12 L18.5,18 L14,20.5 L8,20.5 L5,16 Z" fill="#3e406e"/>
<path d="M23,-1 C23.5,4 24,7 24.5,9 C26,14 27,19 28,24" fill="none" stroke="#c4e6c2" stroke-width="1.5" stroke-linecap="round" stroke-linejoin="round"/>
<path d="M21,10 L29,10 L30,21 L26,23 L21,16 Z" fill="#a9bcae"/>
<path d="M27.6,24.2 C34,22 40,19.5 45,17.3" fill="none" stroke="#c4e6c2" stroke-width="1.3" stroke-linecap="round" stroke-linejoin="round"/>
<path d="M24.5,12 L20,17" fill="none" stroke="#c4e6c2" stroke-width="0.9" stroke-linecap="round" stroke-linejoin="round"/>
<ellipse cx="34.5" cy="10.4" rx="2.5" ry="3" fill="#c4e6c2"/>
<ellipse cx="42.6" cy="9.8" rx="1.8" ry="2.2" fill="#c4e6c2"/>
<ellipse cx="29.3" cy="5.2" rx="1.2" ry="1.5" fill="#c4e6c2"/>
<path d="M0.5,8 L0.5,22" fill="none" stroke="#c5dfc0" stroke-width="2.0" stroke-linecap="round" stroke-linejoin="round"/>
<path d="M3.5,0 L4,26" fill="none" stroke="#a0949e" stroke-width="1.3" stroke-linecap="round" stroke-linejoin="round"/>
<path d="M57,0 L57,28" fill="none" stroke="#aeaebc" stroke-width="1.5" stroke-linecap="round" stroke-linejoin="round"/>
</g>
<line x1="50.900000000000006" y1="47.3" x2="55.300000000000004" y2="47.3" stroke="#587a5a" stroke-width="1.1" opacity="0.8"/>
</g>
<clipPath id="c6"><rect x="0" y="0" width="56.9" height="46.9"/></clipPath>
<filter id="bl6" x="-20%" y="-20%" width="140%" height="140%"><feGaussianBlur stdDeviation="0.6"/></filter>
<g transform="translate(234.2,248.2)" clip-path="url(#c6)">
<rect x="0" y="0" width="56.9" height="46.9" fill="#b8d8b4"/>
<g filter="url(#bl6)">
<path d="M-2,33 L10,35.5 L25,35.8 L38,34 L45,30.5 L52,25 L56,17 L58,12 L58,26 L55,30 L48,36.5 L38,40 L25,42 L10,41 L-2,40 Z" fill="#a89ea6"/>
<path d="M-1,37 C12,40 25,40.5 38,37.5 C46,34 52,28 57,18" fill="none" stroke="#c0b4ba" stroke-width="1.0" stroke-linecap="round" stroke-linejoin="round"/>
<path d="M-2,13 L30,13 L33.6,23 L44,17.3 L47,0 L58,-2 L58,10 L54,18 L45,29.8 L38,32.5 L25,33.5 L10,33 L-2,31 Z" fill="#a8b4aa"/>
<path d="M-1,22 C12,25 25,27 40,24 C46,22 50,18 53,12" fill="none" stroke="#969a9e" stroke-width="1.6" stroke-linecap="round" stroke-linejoin="round"/>
<path d="M-1,18 C12,21 25,23 38,21" fill="none" stroke="#9a98a8" stroke-width="1.2" stroke-linecap="round" stroke-linejoin="round"/>
<path d="M-1,28.7 C12,31 25,31.5 38,30" fill="none" stroke="#c0d8bc" stroke-width="1.5" stroke-linecap="round" stroke-linejoin="round"/>
<path d="M48,4 C50,12 50,20 46,26" fill="none" stroke="#c0d8bc" stroke-width="1.2" stroke-linecap="round" stroke-linejoin="round"/>
<clipPath id="pb5"><path d="M31.8,-2 L47,-2 L46.5,8 L44,17.3 L38,21 L33.6,23 L31.8,14 Z"/></clipPath>
<path d="M31.8,-2 L47,-2 L46.5,8 L44,17.3 L38,21 L33.6,23 L31.8,14 Z" fill="#868c9a"/>
<g clip-path="url(#pb5)">
<path d="M25.00,30.00 L-10.00,30.00 M25.01,29.69 L-9.92,27.49 M25.04,29.37 L-9.68,24.99 M25.09,29.06 L-9.29,22.50 M25.16,28.76 L-8.74,20.05 M25.24,28.45 L-8.04,17.64 M25.35,28.16 L-7.19,15.28 M25.48,27.87 L-6.19,12.97 M25.62,27.59 L-5.05,10.73 M25.78,27.32 L-3.77,8.57 M25.95,27.06 L-2.36,6.49 M26.15,26.81 L-0.82,4.50 M26.36,26.58 L0.84,2.62 M26.58,26.36 L2.62,0.84 M26.81,26.15 L4.50,-0.82 M27.06,25.95 L6.49,-2.36 M27.32,25.78 L8.57,-3.77 M27.59,25.62 L10.73,-5.05 M27.87,25.48 L12.97,-6.19 M28.16,25.35 L15.28,-7.19 M28.45,25.24 L17.64,-8.04 M28.76,25.16 L20.05,-8.74 M29.06,25.09 L22.50,-9.29 M29.37,25.04 L24.99,-9.68 M29.69,25.01 L27.49,-9.92 M30.00,25.00 L30.00,-10.00 M30.31,25.01 L32.51,-9.92 M30.63,25.04 L35.01,-9.68 M30.94,25.09 L37.50,-9.29 M31.24,25.16 L39.95,-8.74 M31.55,25.24 L42.36,-8.04 M31.84,25.35 L44.72,-7.19 M32.13,25.48 L47.03,-6.19 M32.41,25.62 L49.27,-5.05 M32.68,25.78 L51.43,-3.77 M32.94,25.95 L53.51,-2.36 M33.19,26.15 L55.50,-0.82 M33.42,26.36 L57.38,0.84 M33.64,26.58 L59.16,2.62 M33.85,26.81 L60.82,4.50 M34.05,27.06 L62.36,6.49 M34.22,27.32 L63.77,8.57 M34.38,27.59 L65.05,10.73 M34.52,27.87 L66.19,12.97 M34.65,28.16 L67.19,15.28 M34.76,28.45 L68.04,17.64 M34.84,28.76 L68.74,20.05 M34.91,29.06 L69.29,22.50 M34.96,29.37 L69.68,24.99 M34.99,29.69 L69.92,27.49" fill="none" stroke="#5a6280" stroke-width="1.0" stroke-linecap="round" stroke-linejoin="round"/>
<path d="M25.00,29.84 L-9.98,28.74 M25.02,29.53 L-9.82,26.24 M25.06,29.22 L-9.51,23.74 M25.12,28.91 L-9.04,21.27 M25.20,28.61 L-8.41,18.84 M25.30,28.31 L-7.64,16.45 M25.41,28.01 L-6.71,14.11 M25.54,27.73 L-5.64,11.84 M25.70,27.45 L-4.43,9.64 M25.86,27.19 L-3.08,7.52 M26.05,26.94 L-1.61,5.48 M26.25,26.69 L-0.00,3.55 M26.46,26.46 L1.72,1.72 M26.69,26.25 L3.55,-0.00 M26.94,26.05 L5.48,-1.61 M27.19,25.86 L7.52,-3.08 M27.45,25.70 L9.64,-4.43 M27.73,25.54 L11.84,-5.64 M28.01,25.41 L14.11,-6.71 M28.31,25.30 L16.45,-7.64 M28.61,25.20 L18.84,-8.41 M28.91,25.12 L21.27,-9.04 M29.22,25.06 L23.74,-9.51 M29.53,25.02 L26.24,-9.82 M29.84,25.00 L28.74,-9.98 M30.16,25.00 L31.26,-9.98 M30.47,25.02 L33.76,-9.82 M30.78,25.06 L36.26,-9.51 M31.09,25.12 L38.73,-9.04 M31.39,25.20 L41.16,-8.41 M31.69,25.30 L43.55,-7.64 M31.99,25.41 L45.89,-6.71 M32.27,25.54 L48.16,-5.64 M32.55,25.70 L50.36,-4.43 M32.81,25.86 L52.48,-3.08 M33.06,26.05 L54.52,-1.61 M33.31,26.25 L56.45,-0.00 M33.54,26.46 L58.28,1.72 M33.75,26.69 L60.00,3.55 M33.95,26.94 L61.61,5.48 M34.14,27.19 L63.08,7.52 M34.30,27.45 L64.43,9.64 M34.46,27.73 L65.64,11.84 M34.59,28.01 L66.71,14.11 M34.70,28.31 L67.64,16.45 M34.80,28.61 L68.41,18.84 M34.88,28.91 L69.04,21.27 M34.94,29.22 L69.51,23.74 M34.98,29.53 L69.82,26.24 M35.00,29.84 L69.98,28.74" fill="none" stroke="#a8b2ba" stroke-width="0.7" stroke-linecap="round" stroke-linejoin="round"/>
</g>
<path d="M35.3,2 C39,1.5 42,3 45,4.6" fill="none" stroke="#4a4c78" stroke-width="1.8" stroke-linecap="round" stroke-linejoin="round"/>
<path d="M46.8,-1 C47,6 46,13 44,17.3 C40,21 36,22.5 28,24.2" fill="none" stroke="#9c8c98" stroke-width="1.4" stroke-linecap="round" stroke-linejoin="round"/>
<path d="M-2,12 L4,15 L10,16.5 L16,16.5 L22,15.5 L27,12 L31,11 L33,24 L-2,24 Z" fill="#98a0a6"/>
<path d="M0,19 C8,21 18,21 30,19" fill="none" stroke="#b0b8b4" stroke-width="1.0" stroke-linecap="round" stroke-linejoin="round"/>
<path d="M2.5,16 L5.5,6" fill="none" stroke="#565882" stroke-width="3.6" stroke-linecap="round" stroke-linejoin="round"/>
<path d="M9.5,17 L11,9.5" fill="none" stroke="#6e7096" stroke-width="2.6" stroke-linecap="round" stroke-linejoin="round"/>
<path d="M16.5,17 L17,6.5" fill="none" stroke="#5a5c86" stroke-width="3.6" stroke-linecap="round" stroke-linejoin="round"/>
<path d="M23,16 L23.5,7.5" fill="none" stroke="#5a5c86" stroke-width="3.0" stroke-linecap="round" stroke-linejoin="round"/>
<path d="M27.5,12 L27.5,6" fill="none" stroke="#66688e" stroke-width="2.0" stroke-linecap="round" stroke-linejoin="round"/>
<path d="M7,17 L8,11 M14,18 L14,11 M20,18 L21,11" fill="none" stroke="#a8aabc" stroke-width="0.8" stroke-linecap="round" stroke-linejoin="round"/>
<ellipse cx="28.5" cy="4.5" rx="2.2" ry="3" fill="none" stroke="#c4e6c2" stroke-width="1.2"/>
<path d="M0.5,0 L0.5,16" fill="none" stroke="#a2a6ac" stroke-width="2" stroke-linecap="round" stroke-linejoin="round"/>
</g>
<line x1="50.6" y1="44.4" x2="55.0" y2="44.4" stroke="#587a5a" stroke-width="1.1" opacity="0.8"/>
</g>
<clipPath id="c8"><rect x="0" y="0" width="54.4" height="47.2"/></clipPath>
<filter id="bl8" x="-20%" y="-20%" width="140%" height="140%"><feGaussianBlur stdDeviation="0.6"/></filter>
<g transform="translate(209.4,415.6)" clip-path="url(#c8)">
<rect x="0" y="0" width="54.4" height="47.2" fill="#b4d9b6"/>
<g filter="url(#bl8)">
<path d="M0.3,-2 L3.5,-2 L9.4,20 L13.4,29 L20,34.4 L27,35 L34,34 L40,31 L44,26 L49,20 L53.7,11.5 L56,9 L56,31 L50,36 L40,41 L27,42.5 L15,40 L6,34 L1,29 L0,25 Z" fill="#b07fa0"/>
<path d="M0.5,29 C4,36 12,42 24,44 C34,45.5 44,42 52,34 L56,31" fill="none" stroke="#a8a6b2" stroke-width="1.8" stroke-linecap="round" stroke-linejoin="round"/>
<path d="M3.6,-2 L7.7,-2 L9,10 L12.9,20 L16.9,27 L22,31.2 L27,31.8 L33,31 L38.1,29 L43.9,17 L46.2,-2 L53.7,-2 L49.1,17 L42.8,29 L36,33.5 L27,34.6 L18,33.5 L13.4,29 L9.4,20 Z" fill="#bde8bd"/>
<clipPath id="jl7"><path d="M7.7,-2 L46.2,-2 L45.6,5 L43.9,17 L38.1,29 L33,31 L27,31.8 L22,31.2 L16.9,27 L12.9,20 L9,10 Z"/></clipPath>
<path d="M7.7,-2 L46.2,-2 L45.6,5 L43.9,17 L38.1,29 L33,31 L27,31.8 L22,31.2 L16.9,27 L12.9,20 L9,10 Z" fill="#7f7299"/>
<g clip-path="url(#jl7)">
<path d="M33.00,12.00 L58.00,12.00 M32.95,12.71 L57.69,16.27 M32.80,13.41 L56.78,20.45 M32.55,14.08 L55.29,24.46 M32.21,14.70 L53.24,28.22 M31.78,15.27 L50.67,31.65 M31.27,15.78 L47.65,34.67 M30.70,16.21 L44.22,37.24 M30.08,16.55 L40.46,39.29 M29.41,16.80 L36.45,40.78 M28.71,16.95 L32.27,41.69 M28.00,17.00 L28.00,42.00 M27.29,16.95 L23.73,41.69 M26.59,16.80 L19.55,40.78 M25.92,16.55 L15.54,39.29 M25.30,16.21 L11.78,37.24 M24.73,15.78 L8.35,34.67 M24.22,15.27 L5.33,31.65 M23.79,14.70 L2.76,28.22 M23.45,14.08 L0.71,24.46 M23.20,13.41 L-0.78,20.45 M23.05,12.71 L-1.69,16.27 M23.00,12.00 L-2.00,12.00 M23.05,11.29 L-1.69,7.73 M23.20,10.59 L-0.78,3.55 M23.45,9.92 L0.71,-0.46 M23.79,9.30 L2.76,-4.22 M24.22,8.73 L5.33,-7.65 M24.73,8.22 L8.35,-10.67 M25.30,7.79 L11.78,-13.24 M25.92,7.45 L15.54,-15.29 M26.59,7.20 L19.55,-16.78 M27.29,7.05 L23.73,-17.69 M28.00,7.00 L28.00,-18.00 M28.71,7.05 L32.27,-17.69 M29.41,7.20 L36.45,-16.78 M30.08,7.45 L40.46,-15.29 M30.70,7.79 L44.22,-13.24 M31.27,8.22 L47.65,-10.67 M31.78,8.73 L50.67,-7.65 M32.21,9.30 L53.24,-4.22 M32.55,9.92 L55.29,-0.46 M32.80,10.59 L56.78,3.55 M32.95,11.29 L57.69,7.73" fill="none" stroke="#5e5288" stroke-width="1.0" stroke-linecap="round" stroke-linejoin="round"/>
<path d="M32.99,12.36 L57.92,14.14 M32.89,13.06 L57.31,18.38 M32.68,13.75 L56.11,22.48 M32.39,14.40 L54.33,26.38 M32.00,15.00 L52.02,29.98 M31.54,15.54 L49.21,33.21 M31.00,16.00 L45.98,36.02 M30.40,16.39 L42.38,38.33 M29.75,16.68 L38.48,40.11 M29.06,16.89 L34.38,41.31 M28.36,16.99 L30.14,41.92 M27.64,16.99 L25.86,41.92 M26.94,16.89 L21.62,41.31 M26.25,16.68 L17.52,40.11 M25.60,16.39 L13.62,38.33 M25.00,16.00 L10.02,36.02 M24.46,15.54 L6.79,33.21 M24.00,15.00 L3.98,29.98 M23.61,14.40 L1.67,26.38 M23.32,13.75 L-0.11,22.48 M23.11,13.06 L-1.31,18.38 M23.01,12.36 L-1.92,14.14 M23.01,11.64 L-1.92,9.86 M23.11,10.94 L-1.31,5.62 M23.32,10.25 L-0.11,1.52 M23.61,9.60 L1.67,-2.38 M24.00,9.00 L3.98,-5.98 M24.46,8.46 L6.79,-9.21 M25.00,8.00 L10.02,-12.02 M25.60,7.61 L13.62,-14.33 M26.25,7.32 L17.52,-16.11 M26.94,7.11 L21.62,-17.31 M27.64,7.01 L25.86,-17.92 M28.36,7.01 L30.14,-17.92 M29.06,7.11 L34.38,-17.31 M29.75,7.32 L38.48,-16.11 M30.40,7.61 L42.38,-14.33 M31.00,8.00 L45.98,-12.02 M31.54,8.46 L49.21,-9.21 M32.00,9.00 L52.02,-5.98 M32.39,9.60 L54.33,-2.38 M32.68,10.25 L56.11,1.52 M32.89,10.94 L57.31,5.62 M32.99,11.64 L57.92,9.86" fill="none" stroke="#b0aac8" stroke-width="0.8" stroke-linecap="round" stroke-linejoin="round"/>
</g>
<path d="M28,-2 L28,17 L23,26 M28,17 L33,26 M28,17 L28,27 M25,22 L21,20 M31,22 L35,20" fill="none" stroke="#c0e4bf" stroke-width="1.1" stroke-linecap="round" stroke-linejoin="round"/>
<path d="M52,-2 L56,-2 L56,10 L53.5,10 Z" fill="#d0e4cc"/>
</g>
<line x1="48.1" y1="44.7" x2="52.5" y2="44.7" stroke="#587a5a" stroke-width="1.1" opacity="0.8"/>
</g>
<clipPath id="c10"><rect x="0" y="0" width="55.8" height="47.2"/></clipPath>
<filter id="bl10" x="-20%" y="-20%" width="140%" height="140%"><feGaussianBlur stdDeviation="0.6"/></filter>
<g transform="translate(269.8,415.6)" clip-path="url(#c10)">
<rect x="0" y="0" width="55.8" height="47.2" fill="#b4d9b6"/>
<g filter="url(#bl10)">
<path d="M-2,6 L0.4,7 L7,15 L11,29.4 L18,33.8 L25,33.8 L34,31.5 L38.7,29.4 L43.9,23.6 L47.4,-2 L57,-2 L57,21.3 L52,29.4 L45,36 L38,38.2 L30,42 L25,44.4 L15,42 L5,39.4 L-2,36 Z" fill="#ad7d9e"/>
<path d="M-1,38 C6,42 14,45 25,46 C35,46 44,41 50,36 L57,27" fill="none" stroke="#a8a6b2" stroke-width="1.8" stroke-linecap="round" stroke-linejoin="round"/>
<path d="M-2,6.3 L0.4,7 L7.9,9.8 L15.4,15 L19.4,22.5 L22.3,27 L27,29 L33,28 L37,25 L40,20 L42.8,10 L42.8,-2 L47.4,-2 L46,12 L43.9,23.6 L38.7,29.4 L34,31.5 L25,33.8 L18,33.8 L11.3,29.4 L7,15 L0.4,11 Z" fill="#bde8bd"/>
<path d="M5,-2 L31.8,-2 L31.8,11 L28,12 L22.3,9.2 L13.6,6.3 L5,2.3 Z" fill="#bde8bd"/>
<clipPath id="jh9"><path d="M-2,-2 L5,-2 L5,2.3 L13.6,6.3 L22.3,9.2 L28,12 L29,17 L31.8,11 L31.8,-2 L42.8,-2 L42.8,10 L40,20 L37,25 L33,28 L27,29 L22.3,27 L19.4,22.5 L15.4,15 L7.9,9.8 L0.4,6.3 L-2,6.3 Z"/></clipPath>
<path d="M-2,-2 L5,-2 L5,2.3 L13.6,6.3 L22.3,9.2 L28,12 L29,17 L31.8,11 L31.8,-2 L42.8,-2 L42.8,10 L40,20 L37,25 L33,28 L27,29 L22.3,27 L19.4,22.5 L15.4,15 L7.9,9.8 L0.4,6.3 L-2,6.3 Z" fill="#7e6f97"/>
<g clip-path="url(#jh9)">
<path d="M32.00,8.00 L70.00,8.00 M31.98,8.26 L69.66,13.22 M31.93,8.52 L68.64,18.35 M31.85,8.77 L66.96,23.31 M31.73,9.00 L64.64,28.00 M31.59,9.22 L61.73,32.35 M31.41,9.41 L58.28,36.28 M31.22,9.59 L54.35,39.73 M31.00,9.73 L50.00,42.64 M30.77,9.85 L45.31,44.96 M30.52,9.93 L40.35,46.64 M30.26,9.98 L35.22,47.66 M30.00,10.00 L30.00,48.00 M29.74,9.98 L24.78,47.66 M29.48,9.93 L19.65,46.64 M29.23,9.85 L14.69,44.96 M29.00,9.73 L10.00,42.64 M28.78,9.59 L5.65,39.73 M28.59,9.41 L1.72,36.28 M28.41,9.22 L-1.73,32.35 M28.27,9.00 L-4.64,28.00 M28.15,8.77 L-6.96,23.31 M28.07,8.52 L-8.64,18.35 M28.02,8.26 L-9.66,13.22 M28.00,8.00 L-10.00,8.00 M28.02,7.74 L-9.66,2.78 M28.07,7.48 L-8.64,-2.35 M28.15,7.23 L-6.96,-7.31 M28.27,7.00 L-4.64,-12.00 M28.41,6.78 L-1.73,-16.35 M28.59,6.59 L1.72,-20.28 M28.78,6.41 L5.65,-23.73 M29.00,6.27 L10.00,-26.64 M29.23,6.15 L14.69,-28.96 M29.48,6.07 L19.65,-30.64 M29.74,6.02 L24.78,-31.66 M30.00,6.00 L30.00,-32.00 M30.26,6.02 L35.22,-31.66 M30.52,6.07 L40.35,-30.64 M30.77,6.15 L45.31,-28.96 M31.00,6.27 L50.00,-26.64 M31.22,6.41 L54.35,-23.73 M31.41,6.59 L58.28,-20.28 M31.59,6.78 L61.73,-16.35 M31.73,7.00 L64.64,-12.00 M31.85,7.23 L66.96,-7.31 M31.93,7.48 L68.64,-2.35 M31.98,7.74 L69.66,2.78" fill="none" stroke="#5e5088" stroke-width="1.0" stroke-linecap="round" stroke-linejoin="round"/>
<path d="M32.00,8.13 L69.91,10.62 M31.96,8.39 L69.23,15.80 M31.89,8.64 L67.88,20.86 M31.79,8.88 L65.87,25.69 M31.66,9.11 L63.26,30.22 M31.50,9.32 L60.07,34.37 M31.32,9.50 L56.37,38.07 M31.11,9.66 L52.22,41.26 M30.88,9.79 L47.69,43.87 M30.64,9.89 L42.86,45.88 M30.39,9.96 L37.80,47.23 M30.13,10.00 L32.62,47.91 M29.87,10.00 L27.38,47.91 M29.61,9.96 L22.20,47.23 M29.36,9.89 L17.14,45.88 M29.12,9.79 L12.31,43.87 M28.89,9.66 L7.78,41.26 M28.68,9.50 L3.63,38.07 M28.50,9.32 L-0.07,34.37 M28.34,9.11 L-3.26,30.22 M28.21,8.88 L-5.87,25.69 M28.11,8.64 L-7.88,20.86 M28.04,8.39 L-9.23,15.80 M28.00,8.13 L-9.91,10.62 M28.00,7.87 L-9.91,5.38 M28.04,7.61 L-9.23,0.20 M28.11,7.36 L-7.88,-4.86 M28.21,7.12 L-5.87,-9.69 M28.34,6.89 L-3.26,-14.22 M28.50,6.68 L-0.07,-18.37 M28.68,6.50 L3.63,-22.07 M28.89,6.34 L7.78,-25.26 M29.12,6.21 L12.31,-27.87 M29.36,6.11 L17.14,-29.88 M29.61,6.04 L22.20,-31.23 M29.87,6.00 L27.38,-31.91 M30.13,6.00 L32.62,-31.91 M30.39,6.04 L37.80,-31.23 M30.64,6.11 L42.86,-29.88 M30.88,6.21 L47.69,-27.87 M31.11,6.34 L52.22,-25.26 M31.32,6.50 L56.37,-22.07 M31.50,6.68 L60.07,-18.37 M31.66,6.89 L63.26,-14.22 M31.79,7.12 L65.87,-9.69 M31.89,7.36 L67.88,-4.86 M31.96,7.61 L69.23,0.20 M32.00,7.87 L69.91,5.38" fill="none" stroke="#aca4c4" stroke-width="0.7" stroke-linecap="round" stroke-linejoin="round"/>
</g>
<ellipse cx="29.5" cy="13" rx="1.3" ry="2" fill="#bde8bd"/>
<path d="M49,18 L53,19" fill="none" stroke="#7d4c78" stroke-width="1.0" stroke-linecap="round" stroke-linejoin="round"/>
<path d="M54,-2 L57,-2 L57,6 L54,6 Z" fill="#c8c2d0"/>
</g>
<line x1="49.5" y1="44.7" x2="53.9" y2="44.7" stroke="#587a5a" stroke-width="1.1" opacity="0.8"/>
</g>
<clipPath id="c12"><rect x="0" y="0" width="55.3" height="47.7"/></clipPath>
<filter id="bl12" x="-20%" y="-20%" width="140%" height="140%"><feGaussianBlur stdDeviation="0.6"/></filter>
<g transform="translate(238.2,479.8)" clip-path="url(#c12)">
<rect x="0" y="0" width="55.3" height="47.7" fill="#b4d9b6"/>
<g filter="url(#bl12)">
<path d="M-2,-2 L3.3,-2 L3.3,26 L-2,27 Z" fill="#9a8ea0"/>
<path d="M-2,26.7 L3,27 L10,32 L22,34.2 L34.5,31 L43.1,18 L46,0 L51.2,-2 L54.7,-2 L53.5,16.5 L50,26.7 L40,35.3 L30,40 L22,41.7 L12,40.5 L3,38.5 L-2,38.5 Z" fill="#ae82a0"/>
<path d="M-1,40 C8,43 16,44.5 24,44 C34,43 44,37 52,28 L57,22" fill="none" stroke="#a8a6b2" stroke-width="1.6" stroke-linecap="round" stroke-linejoin="round"/>
<path d="M3.3,-2 L6.7,-2 L7,14 L8.5,22 L12,29 L22,32 L34.5,29.2 L37.3,29.2 L34.5,31 L22,34.2 L10,32 L5,26 L3.6,14 Z" fill="#bde8bd"/>
<path d="M46,-2 L51.2,-2 L46,16.5 L37.3,29.2 L34.5,29.2 L43.1,16.5 Z" fill="#bde8bd"/>
<path d="M7.3,-1 C7.3,10 8,20 11,26" fill="none" stroke="#8a6080" stroke-width="0.9" stroke-linecap="round" stroke-linejoin="round"/>
<clipPath id="jp11"><path d="M7.3,-2 L46,-2 L45,8 L43.1,16.5 L34.5,29.2 L22,32 L12,29 L8.5,22 L7.5,12 Z"/></clipPath>
<path d="M7.3,-2 L46,-2 L45,8 L43.1,16.5 L34.5,29.2 L22,32 L12,29 L8.5,22 L7.5,12 Z" fill="#82769c"/>
<g clip-path="url(#jp11)">
<path d="M28.00,14.00 L53.00,14.00 M27.95,14.71 L52.69,18.27 M27.80,15.41 L51.78,22.45 M27.55,16.08 L50.29,26.46 M27.21,16.70 L48.24,30.22 M26.78,17.27 L45.67,33.65 M26.27,17.78 L42.65,36.67 M25.70,18.21 L39.22,39.24 M25.08,18.55 L35.46,41.29 M24.41,18.80 L31.45,42.78 M23.71,18.95 L27.27,43.69 M23.00,19.00 L23.00,44.00 M22.29,18.95 L18.73,43.69 M21.59,18.80 L14.55,42.78 M20.92,18.55 L10.54,41.29 M20.30,18.21 L6.78,39.24 M19.73,17.78 L3.35,36.67 M19.22,17.27 L0.33,33.65 M18.79,16.70 L-2.24,30.22 M18.45,16.08 L-4.29,26.46 M18.20,15.41 L-5.78,22.45 M18.05,14.71 L-6.69,18.27 M18.00,14.00 L-7.00,14.00 M18.05,13.29 L-6.69,9.73 M18.20,12.59 L-5.78,5.55 M18.45,11.92 L-4.29,1.54 M18.79,11.30 L-2.24,-2.22 M19.22,10.73 L0.33,-5.65 M19.73,10.22 L3.35,-8.67 M20.30,9.79 L6.78,-11.24 M20.92,9.45 L10.54,-13.29 M21.59,9.20 L14.55,-14.78 M22.29,9.05 L18.73,-15.69 M23.00,9.00 L23.00,-16.00 M23.71,9.05 L27.27,-15.69 M24.41,9.20 L31.45,-14.78 M25.08,9.45 L35.46,-13.29 M25.70,9.79 L39.22,-11.24 M26.27,10.22 L42.65,-8.67 M26.78,10.73 L45.67,-5.65 M27.21,11.30 L48.24,-2.22 M27.55,11.92 L50.29,1.54 M27.80,12.59 L51.78,5.55 M27.95,13.29 L52.69,9.73" fill="none" stroke="#605489" stroke-width="1.0" stroke-linecap="round" stroke-linejoin="round"/>
<path d="M27.99,14.36 L52.92,16.14 M27.89,15.06 L52.31,20.38 M27.68,15.75 L51.11,24.48 M27.39,16.40 L49.33,28.38 M27.00,17.00 L47.02,31.98 M26.54,17.54 L44.21,35.21 M26.00,18.00 L40.98,38.02 M25.40,18.39 L37.38,40.33 M24.75,18.68 L33.48,42.11 M24.06,18.89 L29.38,43.31 M23.36,18.99 L25.14,43.92 M22.64,18.99 L20.86,43.92 M21.94,18.89 L16.62,43.31 M21.25,18.68 L12.52,42.11 M20.60,18.39 L8.62,40.33 M20.00,18.00 L5.02,38.02 M19.46,17.54 L1.79,35.21 M19.00,17.00 L-1.02,31.98 M18.61,16.40 L-3.33,28.38 M18.32,15.75 L-5.11,24.48 M18.11,15.06 L-6.31,20.38 M18.01,14.36 L-6.92,16.14 M18.01,13.64 L-6.92,11.86 M18.11,12.94 L-6.31,7.62 M18.32,12.25 L-5.11,3.52 M18.61,11.60 L-3.33,-0.38 M19.00,11.00 L-1.02,-3.98 M19.46,10.46 L1.79,-7.21 M20.00,10.00 L5.02,-10.02 M20.60,9.61 L8.62,-12.33 M21.25,9.32 L12.52,-14.11 M21.94,9.11 L16.62,-15.31 M22.64,9.01 L20.86,-15.92 M23.36,9.01 L25.14,-15.92 M24.06,9.11 L29.38,-15.31 M24.75,9.32 L33.48,-14.11 M25.40,9.61 L37.38,-12.33 M26.00,10.00 L40.98,-10.02 M26.54,10.46 L44.21,-7.21 M27.00,11.00 L47.02,-3.98 M27.39,11.60 L49.33,-0.38 M27.68,12.25 L51.11,3.52 M27.89,12.94 L52.31,7.62 M27.99,13.64 L52.92,11.86" fill="none" stroke="#b2aec8" stroke-width="0.8" stroke-linecap="round" stroke-linejoin="round"/>
</g>
<path d="M24,3 L22,11 L21,20 L20,28 M22,11 L27,9 M21,20 L25,26" fill="none" stroke="#bfe2be" stroke-width="1.1" stroke-linecap="round" stroke-linejoin="round"/>
<path d="M24,1 L27.5,1 L27,8 L24,8 Z" fill="#b8dcb6"/>
</g>
<line x1="49.0" y1="45.2" x2="53.4" y2="45.2" stroke="#587a5a" stroke-width="1.1" opacity="0.8"/>
</g>
<text x="188" y="172.7" font-size="11" font-weight="bold" fill="#000">E</text>
<text x="227.2" y="179" font-size="8.4" style="stroke-width:0.08px" text-anchor="middle" textLength="33.9" lengthAdjust="spacingAndGlyphs">Live MSC</text>
<text x="292.5" y="179" font-size="8.4" style="stroke-width:0.08px" text-anchor="middle" textLength="47.6" lengthAdjust="spacingAndGlyphs">Thawed MSC</text>
<text x="260.9" y="244.6" font-size="8.4" style="stroke-width:0.08px" text-anchor="middle" textLength="16.1" lengthAdjust="spacingAndGlyphs">PBS</text>
<text x="201.6" y="402.6" font-size="11" font-weight="bold" fill="#000">J</text>
<text x="239" y="410.5" font-size="8.4" style="stroke-width:0.08px" text-anchor="middle" textLength="33.9" lengthAdjust="spacingAndGlyphs">Live MSC</text>
<text x="298" y="410.5" font-size="8.4" style="stroke-width:0.08px" text-anchor="middle" textLength="27.8" lengthAdjust="spacingAndGlyphs">HI MSC</text>
<text x="264.4" y="475.8" font-size="8.4" style="stroke-width:0.08px" text-anchor="middle" textLength="15.9" lengthAdjust="spacingAndGlyphs">PBS</text>
</svg>
</body></html>
